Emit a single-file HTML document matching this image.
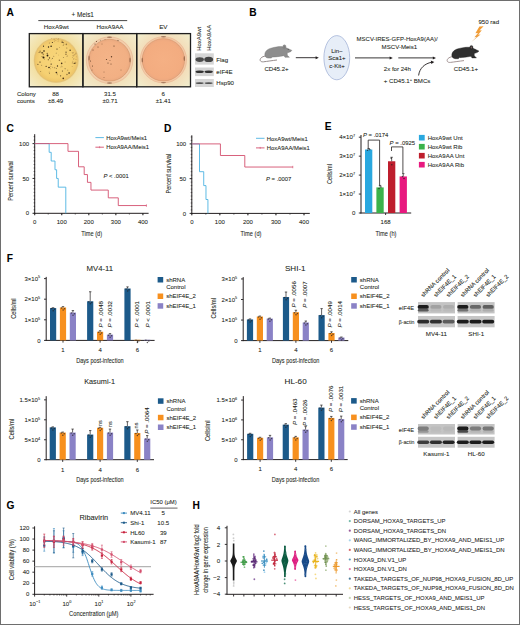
<!DOCTYPE html><html><head><meta charset="utf-8"><style>html,body{margin:0;padding:0;background:#fff;width:520px;height:625px;overflow:hidden}svg{display:block;font-family:"Liberation Sans", sans-serif} text{stroke:#231f20;stroke-width:0.14px;stroke-opacity:0.55}</style></head><body><svg width="520" height="625" viewBox="0 0 520 625" font-family='"Liberation Sans", sans-serif' fill="#231f20"><defs>
<radialGradient id="plate1" cx="50%" cy="50%" r="50%">
 <stop offset="0" stop-color="#f8d67a"/><stop offset="0.8" stop-color="#f5d072"/><stop offset="1" stop-color="#edc468"/>
</radialGradient>
<radialGradient id="plate2" cx="50%" cy="50%" r="50%">
 <stop offset="0" stop-color="#f4b488"/><stop offset="0.85" stop-color="#f2b084"/><stop offset="1" stop-color="#eaaa80"/>
</radialGradient>
<radialGradient id="plate3" cx="50%" cy="50%" r="50%">
 <stop offset="0" stop-color="#f5b084"/><stop offset="0.85" stop-color="#f3ac80"/><stop offset="1" stop-color="#eca880"/>
</radialGradient>
<radialGradient id="bg1" cx="50%" cy="50%" r="72%">
 <stop offset="0.5" stop-color="#f2dc98"/><stop offset="1" stop-color="#f4eed0"/>
</radialGradient>
<radialGradient id="bg2" cx="50%" cy="50%" r="72%">
 <stop offset="0.5" stop-color="#f2dcb4"/><stop offset="1" stop-color="#f2eed0"/>
</radialGradient>
<radialGradient id="bg3" cx="50%" cy="50%" r="72%">
 <stop offset="0.5" stop-color="#f4d8b4"/><stop offset="1" stop-color="#f0f0d0"/>
</radialGradient>
<linearGradient id="bolt" x1="0" y1="0" x2="0" y2="1">
 <stop offset="0" stop-color="#f39a2c"/><stop offset="0.6" stop-color="#f0a040"/><stop offset="1" stop-color="#c8925a"/>
</linearGradient>
</defs><rect x="0" y="0" width="520" height="625" fill="#fff"/><text x="6.60" y="15.90" font-size="10.2" font-weight="bold" fill="#000">A</text>
<text x="82.70" y="16.70" font-size="6.3" text-anchor="middle">+ Meis1</text>
<line x1="38.30" y1="20.60" x2="127.20" y2="20.60" stroke="#333" stroke-width="0.9"/>
<text x="56.30" y="29.40" font-size="6.25" text-anchor="middle">HoxA9wt</text>
<text x="110.00" y="29.40" font-size="6.25" text-anchor="middle">HoxA9AA</text>
<text x="163.30" y="29.40" font-size="6.25" text-anchor="middle">EV</text>
<rect x="29.30" y="33.60" width="53.60" height="53.20" fill="url(#bg1)"/>
<rect x="82.90" y="33.60" width="53.80" height="53.20" fill="url(#bg2)"/>
<rect x="136.70" y="33.60" width="53.80" height="53.20" fill="url(#bg3)"/>
<circle cx="56.20" cy="60.40" r="22.60" fill="#eed28e"/>
<circle cx="56.20" cy="60.40" r="21.60" fill="url(#plate1)"/>
<circle cx="56.2" cy="60.4" r="21.8" fill="none" stroke="#d9b364" stroke-width="0.7" opacity="0.7"/>
<circle cx="52.81" cy="67.17" r="0.30" fill="#3a2a18"/>
<circle cx="58.79" cy="55.01" r="0.30" fill="#8a6a38"/>
<circle cx="57.46" cy="65.98" r="0.65" fill="#3a2a18"/>
<circle cx="57.05" cy="74.85" r="0.30" fill="#8a6a38"/>
<circle cx="62.76" cy="66.87" r="0.30" fill="#8a6a38"/>
<circle cx="52.47" cy="58.18" r="0.45" fill="#3a2a18"/>
<circle cx="49.53" cy="57.92" r="0.65" fill="#4a3418"/>
<circle cx="41.94" cy="56.67" r="0.40" fill="#3a2a18"/>
<circle cx="42.62" cy="52.75" r="0.55" fill="#3a2a18"/>
<circle cx="51.53" cy="58.96" r="0.30" fill="#8a6a38"/>
<circle cx="60.59" cy="75.87" r="0.65" fill="#6a5028"/>
<circle cx="37.90" cy="64.42" r="0.55" fill="#6a5028"/>
<circle cx="56.28" cy="68.67" r="0.45" fill="#3a2a18"/>
<circle cx="43.59" cy="54.03" r="0.55" fill="#9a7a40"/>
<circle cx="41.76" cy="65.21" r="0.35" fill="#3a2a18"/>
<circle cx="48.30" cy="59.81" r="0.55" fill="#4a3418"/>
<circle cx="67.77" cy="55.24" r="0.35" fill="#8a6a38"/>
<circle cx="39.84" cy="52.32" r="0.55" fill="#6a5028"/>
<circle cx="51.13" cy="46.25" r="0.80" fill="#3a2a18"/>
<circle cx="66.35" cy="44.40" r="0.80" fill="#9a7a40"/>
<circle cx="53.73" cy="56.28" r="0.50" fill="#9a7a40"/>
<circle cx="42.00" cy="52.83" r="0.80" fill="#6a5028"/>
<circle cx="52.38" cy="42.44" r="0.55" fill="#3a2a18"/>
<circle cx="67.03" cy="56.16" r="0.35" fill="#2a1e10"/>
<circle cx="72.13" cy="66.59" r="0.40" fill="#9a7a40"/>
<circle cx="56.38" cy="72.59" r="0.80" fill="#3a2a18"/>
<circle cx="62.40" cy="71.09" r="0.50" fill="#4a3418"/>
<circle cx="63.84" cy="43.96" r="0.50" fill="#9a7a40"/>
<circle cx="46.14" cy="66.33" r="0.65" fill="#4a3418"/>
<circle cx="60.97" cy="67.05" r="0.45" fill="#9a7a40"/>
<circle cx="57.62" cy="73.91" r="0.40" fill="#6a5028"/>
<circle cx="54.72" cy="67.69" r="0.55" fill="#8a6a38"/>
<circle cx="38.79" cy="52.69" r="0.30" fill="#2a1e10"/>
<circle cx="70.10" cy="50.24" r="0.65" fill="#2a1e10"/>
<circle cx="51.15" cy="64.12" r="0.65" fill="#3a2a18"/>
<circle cx="63.25" cy="78.42" r="0.80" fill="#4a3418"/>
<circle cx="67.85" cy="70.03" r="0.35" fill="#3a2a18"/>
<circle cx="43.15" cy="54.58" r="0.55" fill="#8a6a38"/>
<circle cx="74.20" cy="63.31" r="0.65" fill="#4a3418"/>
<circle cx="43.54" cy="46.15" r="0.55" fill="#2a1e10"/>
<circle cx="69.08" cy="72.93" r="0.80" fill="#2a1e10"/>
<circle cx="50.51" cy="60.98" r="0.35" fill="#9a7a40"/>
<circle cx="50.68" cy="68.78" r="0.40" fill="#8a6a38"/>
<circle cx="75.02" cy="63.15" r="0.55" fill="#4a3418"/>
<circle cx="49.34" cy="43.06" r="0.50" fill="#9a7a40"/>
<circle cx="66.83" cy="48.08" r="0.50" fill="#8a6a38"/>
<circle cx="50.87" cy="66.32" r="0.45" fill="#8a6a38"/>
<circle cx="42.84" cy="56.83" r="0.45" fill="#8a6a38"/>
<circle cx="63.49" cy="42.47" r="0.45" fill="#4a3418"/>
<circle cx="63.18" cy="45.15" r="0.45" fill="#4a3418"/>
<circle cx="44.64" cy="59.11" r="0.30" fill="#3a2a18"/>
<circle cx="59.54" cy="47.42" r="0.45" fill="#9a7a40"/>
<circle cx="47.17" cy="53.38" r="0.55" fill="#6a5028"/>
<circle cx="61.65" cy="63.42" r="0.80" fill="#4a3418"/>
<circle cx="49.10" cy="71.94" r="0.30" fill="#2a1e10"/>
<circle cx="65.83" cy="54.22" r="0.35" fill="#9a7a40"/>
<circle cx="65.07" cy="68.72" r="0.45" fill="#2a1e10"/>
<circle cx="66.05" cy="52.15" r="0.55" fill="#3a2a18"/>
<circle cx="62.23" cy="42.15" r="0.65" fill="#2a1e10"/>
<circle cx="40.75" cy="71.42" r="0.40" fill="#4a3418"/>
<circle cx="59.43" cy="60.26" r="0.80" fill="#9a7a40"/>
<circle cx="66.96" cy="74.49" r="0.80" fill="#9a7a40"/>
<circle cx="63.31" cy="57.45" r="0.40" fill="#3a2a18"/>
<circle cx="75.34" cy="62.12" r="0.35" fill="#8a6a38"/>
<circle cx="56.18" cy="53.12" r="0.45" fill="#4a3418"/>
<circle cx="65.06" cy="61.97" r="0.45" fill="#8a6a38"/>
<circle cx="49.59" cy="73.18" r="0.40" fill="#3a2a18"/>
<circle cx="65.99" cy="54.19" r="0.80" fill="#9a7a40"/>
<circle cx="40.14" cy="51.13" r="0.65" fill="#8a6a38"/>
<circle cx="61.37" cy="65.96" r="0.30" fill="#2a1e10"/>
<circle cx="43.50" cy="57.50" r="1.00" fill="#2a1c0e"/>
<circle cx="47.50" cy="55.50" r="0.90" fill="#2a1c0e"/>
<circle cx="44.00" cy="51.00" r="0.80" fill="#2a1c0e"/>
<circle cx="48.50" cy="47.00" r="0.70" fill="#2a1c0e"/>
<circle cx="49.00" cy="67.50" r="0.80" fill="#2a1c0e"/>
<circle cx="40.00" cy="62.00" r="0.60" fill="#2a1c0e"/>
<circle cx="57.00" cy="49.00" r="0.60" fill="#2a1c0e"/>
<circle cx="75.38" cy="59.30" r="0.25" fill="#8a6a40" opacity="0.8"/>
<circle cx="72.36" cy="57.68" r="0.40" fill="#8a6a40" opacity="0.8"/>
<circle cx="72.10" cy="52.74" r="0.40" fill="#8a6a40" opacity="0.8"/>
<circle cx="74.09" cy="58.67" r="0.25" fill="#8a6a40" opacity="0.8"/>
<circle cx="75.92" cy="52.68" r="0.25" fill="#8a6a40" opacity="0.8"/>
<circle cx="72.88" cy="61.27" r="0.40" fill="#8a6a40" opacity="0.8"/>
<circle cx="73.76" cy="52.33" r="0.25" fill="#8a6a40" opacity="0.8"/>
<circle cx="73.72" cy="59.35" r="0.40" fill="#8a6a40" opacity="0.8"/>
<circle cx="74.53" cy="54.39" r="0.30" fill="#8a6a40" opacity="0.8"/>
<circle cx="73.76" cy="58.40" r="0.30" fill="#8a6a40" opacity="0.8"/>
<circle cx="74.04" cy="54.97" r="0.40" fill="#8a6a40" opacity="0.8"/>
<circle cx="75.88" cy="63.31" r="0.30" fill="#8a6a40" opacity="0.8"/>
<circle cx="76.11" cy="62.71" r="0.25" fill="#8a6a40" opacity="0.8"/>
<circle cx="75.70" cy="53.65" r="0.25" fill="#8a6a40" opacity="0.8"/>
<circle cx="73.46" cy="55.79" r="0.40" fill="#8a6a40" opacity="0.8"/>
<circle cx="72.70" cy="52.88" r="0.40" fill="#8a6a40" opacity="0.8"/>
<circle cx="73.01" cy="53.47" r="0.25" fill="#8a6a40" opacity="0.8"/>
<circle cx="76.20" cy="59.72" r="0.30" fill="#8a6a40" opacity="0.8"/>
<circle cx="72.21" cy="62.59" r="0.30" fill="#8a6a40" opacity="0.8"/>
<circle cx="72.60" cy="63.43" r="0.30" fill="#8a6a40" opacity="0.8"/>
<circle cx="75.92" cy="53.95" r="0.40" fill="#8a6a40" opacity="0.8"/>
<circle cx="75.66" cy="53.94" r="0.30" fill="#8a6a40" opacity="0.8"/>
<circle cx="76.47" cy="56.85" r="0.30" fill="#8a6a40" opacity="0.8"/>
<circle cx="72.48" cy="55.82" r="0.40" fill="#8a6a40" opacity="0.8"/>
<circle cx="73.33" cy="56.06" r="0.30" fill="#8a6a40" opacity="0.8"/>
<circle cx="73.70" cy="52.22" r="0.30" fill="#8a6a40" opacity="0.8"/>
<circle cx="74.09" cy="55.55" r="0.25" fill="#8a6a40" opacity="0.8"/>
<circle cx="72.06" cy="63.02" r="0.25" fill="#8a6a40" opacity="0.8"/>
<circle cx="76.36" cy="53.26" r="0.30" fill="#8a6a40" opacity="0.8"/>
<circle cx="72.86" cy="62.87" r="0.25" fill="#8a6a40" opacity="0.8"/>
<circle cx="54.25" cy="39.02" r="0.30" fill="#8a6a40" opacity="0.7"/>
<circle cx="61.20" cy="41.20" r="0.30" fill="#8a6a40" opacity="0.7"/>
<circle cx="55.87" cy="40.65" r="0.40" fill="#8a6a40" opacity="0.7"/>
<circle cx="57.85" cy="41.30" r="0.25" fill="#8a6a40" opacity="0.7"/>
<circle cx="54.35" cy="41.70" r="0.25" fill="#8a6a40" opacity="0.7"/>
<circle cx="56.10" cy="38.79" r="0.25" fill="#8a6a40" opacity="0.7"/>
<circle cx="58.61" cy="41.71" r="0.25" fill="#8a6a40" opacity="0.7"/>
<circle cx="58.30" cy="39.39" r="0.30" fill="#8a6a40" opacity="0.7"/>
<circle cx="61.35" cy="40.32" r="0.30" fill="#8a6a40" opacity="0.7"/>
<circle cx="62.93" cy="40.17" r="0.30" fill="#8a6a40" opacity="0.7"/>
<circle cx="58.46" cy="38.67" r="0.40" fill="#8a6a40" opacity="0.7"/>
<circle cx="53.86" cy="38.94" r="0.25" fill="#8a6a40" opacity="0.7"/>
<circle cx="54.14" cy="39.22" r="0.30" fill="#8a6a40" opacity="0.7"/>
<circle cx="58.54" cy="40.62" r="0.25" fill="#8a6a40" opacity="0.7"/>
<circle cx="54.48" cy="40.50" r="0.25" fill="#8a6a40" opacity="0.7"/>
<circle cx="54.25" cy="41.71" r="0.30" fill="#8a6a40" opacity="0.7"/>
<circle cx="51.44" cy="38.57" r="0.40" fill="#8a6a40" opacity="0.7"/>
<circle cx="57.61" cy="39.26" r="0.30" fill="#8a6a40" opacity="0.7"/>
<circle cx="109.60" cy="60.20" r="23.60" fill="#f3cdaa"/>
<circle cx="109.6" cy="60.2" r="23.3" fill="none" stroke="#dcaa88" stroke-width="0.5" opacity="0.7"/>
<circle cx="109.60" cy="60.20" r="20.90" fill="url(#plate2)"/>
<circle cx="109.6" cy="60.2" r="20.9" fill="none" stroke="#c8865c" stroke-width="0.6" opacity="0.8"/>
<circle cx="111.50" cy="56.80" r="0.70" fill="#5a3a22"/>
<circle cx="106.50" cy="59.50" r="0.60" fill="#5a3a22"/>
<circle cx="108.00" cy="63.00" r="0.55" fill="#5a3a22"/>
<circle cx="111.00" cy="64.00" r="0.50" fill="#5a3a22"/>
<circle cx="95.00" cy="44.00" r="0.50" fill="#5a3a22"/>
<circle cx="114.00" cy="46.00" r="0.60" fill="#5a3a22"/>
<circle cx="92.50" cy="66.00" r="0.50" fill="#5a3a22"/>
<circle cx="104.00" cy="72.00" r="0.40" fill="#5a3a22"/>
<circle cx="98.00" cy="47.00" r="0.50" fill="#5a3a22"/>
<circle cx="121.00" cy="70.00" r="0.40" fill="#5a3a22"/>
<circle cx="110.00" cy="60.50" r="0.40" fill="#5a3a22"/>
<circle cx="102.00" cy="44.00" r="0.40" fill="#5a3a22"/>
<circle cx="93.00" cy="50.00" r="0.50" fill="#5a3a22"/>
<circle cx="96.50" cy="41.50" r="0.50" fill="#5a3a22"/>
<circle cx="100.50" cy="40.20" r="0.40" fill="#5a3a22"/>
<circle cx="105.00" cy="39.40" r="0.40" fill="#5a3a22"/>
<circle cx="118.00" cy="40.50" r="0.50" fill="#5a3a22"/>
<circle cx="90.50" cy="61.00" r="0.50" fill="#5a3a22"/>
<circle cx="92.00" cy="70.00" r="0.40" fill="#5a3a22"/>
<circle cx="104.00" cy="77.50" r="0.40" fill="#5a3a22"/>
<circle cx="163.40" cy="59.80" r="23.40" fill="#f4c9a6"/>
<circle cx="163.4" cy="59.8" r="23.1" fill="none" stroke="#dcaa88" stroke-width="0.5" opacity="0.7"/>
<circle cx="163.40" cy="59.80" r="21.20" fill="url(#plate3)"/>
<circle cx="163.4" cy="59.8" r="21.2" fill="none" stroke="#c8865c" stroke-width="0.6" opacity="0.7"/>
<ellipse cx="89.0" cy="58" rx="0.7" ry="2.6" fill="#6a4028" opacity="0.55"/>
<ellipse cx="130.0" cy="60" rx="0.7" ry="2.6" fill="#6a4028" opacity="0.55"/>
<ellipse cx="142.3" cy="60" rx="0.7" ry="2.6" fill="#6a4028" opacity="0.55"/>
<ellipse cx="184.3" cy="58.5" rx="0.7" ry="2.6" fill="#6a4028" opacity="0.55"/>
<ellipse cx="109.5" cy="37.2" rx="2.6" ry="0.7" fill="#6a4028" opacity="0.55"/>
<ellipse cx="163.5" cy="36.8" rx="2.6" ry="0.7" fill="#6a4028" opacity="0.55"/>
<ellipse cx="163.5" cy="82.6" rx="2.6" ry="0.7" fill="#6a4028" opacity="0.55"/>
<ellipse cx="109.5" cy="83.0" rx="2.6" ry="0.7" fill="#6a4028" opacity="0.55"/>
<rect x="29.30" y="33.60" width="53.60" height="53.20" fill="none" stroke="#1e1e1e" stroke-width="1.3"/>
<rect x="82.90" y="33.60" width="53.80" height="53.20" fill="none" stroke="#1e1e1e" stroke-width="1.3"/>
<rect x="136.70" y="33.60" width="53.80" height="53.20" fill="none" stroke="#1e1e1e" stroke-width="1.3"/>
<text x="16.90" y="96.00" font-size="6.1">Colony</text>
<text x="16.90" y="103.30" font-size="6.1">counts</text>
<text x="55.60" y="96.00" font-size="6.1" text-anchor="middle">88</text>
<text x="55.60" y="103.30" font-size="6.1" text-anchor="middle">±8.49</text>
<text x="110.00" y="96.00" font-size="6.1" text-anchor="middle">31.5</text>
<text x="110.00" y="103.30" font-size="6.1" text-anchor="middle">±0.71</text>
<text x="163.30" y="96.00" font-size="6.1" text-anchor="middle">6</text>
<text x="163.30" y="103.30" font-size="6.1" text-anchor="middle">±1.41</text>
<filter id="blur1" x="-20%" y="-50%" width="140%" height="200%"><feGaussianBlur stdDeviation="0.45"/></filter>
<rect x="195.00" y="53.30" width="18.80" height="11.30" fill="#d6d6d6"/>
<ellipse cx="199.70" cy="59.60" rx="4.20" ry="2.40" fill="#444" opacity="0.95" filter="url(#blur1)"/>
<ellipse cx="208.70" cy="59.40" rx="4.40" ry="2.60" fill="#3c3c3c" opacity="0.95" filter="url(#blur1)"/>
<rect x="195.00" y="67.50" width="18.80" height="8.60" fill="#d4d4d4"/>
<ellipse cx="199.70" cy="71.80" rx="4.20" ry="1.30" fill="#2a2a2a" opacity="0.95" filter="url(#blur1)"/>
<ellipse cx="208.70" cy="71.80" rx="4.20" ry="1.30" fill="#2a2a2a" opacity="0.95" filter="url(#blur1)"/>
<rect x="195.00" y="79.00" width="18.80" height="8.00" fill="#d6d6d6"/>
<ellipse cx="199.70" cy="83.10" rx="4.00" ry="0.95" fill="#3a3a3a" opacity="0.85" filter="url(#blur1)"/>
<ellipse cx="208.70" cy="83.10" rx="4.00" ry="0.95" fill="#3a3a3a" opacity="0.85" filter="url(#blur1)"/>
<text x="216.30" y="61.80" font-size="6.1">Flag</text>
<text x="216.30" y="74.00" font-size="6.1">eIF4E</text>
<text x="216.30" y="85.30" font-size="6.1">Hsp90</text>
<text x="201.20" y="50.80" font-size="6.0" transform="rotate(-90 201.20 50.80)">HoxA9wt</text>
<text x="210.90" y="50.80" font-size="6.0" transform="rotate(-90 210.90 50.80)">HoxA9AA</text>
<text x="249.20" y="15.90" font-size="10.2" font-weight="bold" fill="#000">B</text>
<path d="M265.80 56.00 C259.00 56.70 258.40 62.40 263.50 61.80 C267.50 61.30 272.00 60.60 277.00 60.00" fill="none" stroke="#8a8080" stroke-width="0.9"/>
<path d="M265.00 55.90 C264.20 52.40 266.50 49.40 271.00 48.20 C275.00 47.00 279.50 46.40 282.50 46.70 C284.50 46.90 286.50 47.70 288.00 48.60 L291.90 50.40 C291.00 51.80 289.00 52.40 287.20 52.80 L287.30 55.20 L289.40 57.30 L285.00 57.30 L284.00 55.70 C280.00 56.40 274.00 57.20 272.20 57.00 L271.40 58.10 L268.00 58.10 C266.20 57.70 265.30 56.90 265.00 55.90 Z" fill="#8d8d8d" stroke="#6e6e6e" stroke-width="0.4"/>
<ellipse cx="284.40" cy="46.70" rx="1.6" ry="1.9" fill="#8d8d8d" stroke="#6e6e6e" stroke-width="0.3"/>
<ellipse cx="284.40" cy="47.00" rx="0.8" ry="1.0" fill="#7e7e7e"/>
<circle cx="288.20" cy="49.50" r="0.50" fill="#444"/>
<text x="276.50" y="70.60" font-size="6.1" text-anchor="middle">CD45.2+</text>
<line x1="295.80" y1="57.70" x2="316.30" y2="57.70" stroke="#231f20" stroke-width="0.9"/>
<path d="M318.8 57.7 L315.6 56.2 L315.6 59.2 Z" fill="#231f20"/>
<ellipse cx="336.8" cy="57.7" rx="12.9" ry="22.1" fill="#e7eef8" stroke="#9aaad2" stroke-width="0.7"/>
<text x="336.90" y="53.10" font-size="6.0" text-anchor="middle">Lin−</text>
<text x="336.90" y="60.20" font-size="6.0" text-anchor="middle">Sca1+</text>
<text x="336.90" y="67.90" font-size="6.0" text-anchor="middle">c-Kit+</text>
<line x1="355.00" y1="57.90" x2="390.30" y2="57.90" stroke="#231f20" stroke-width="0.9"/>
<path d="M392.8 57.9 L389.6 56.4 L389.6 59.4 Z" fill="#231f20"/>
<line x1="398.30" y1="57.90" x2="433.50" y2="57.90" stroke="#231f20" stroke-width="0.9"/>
<path d="M436 57.9 L432.8 56.4 L432.8 59.4 Z" fill="#231f20"/>
<text x="356.60" y="41.40" font-size="6.1" textLength="81.00" lengthAdjust="spacingAndGlyphs">MSCV-IRES-GFP-HoxA9(AA)/</text>
<text x="399.40" y="49.10" font-size="6.1" text-anchor="middle">MSCV-Meis1</text>
<text x="383.80" y="70.60" font-size="6.1">2x for 24h</text>
<text x="383.80" y="83.30" font-size="6.1">+ CD45.1<tspan font-size="4" dy="-2.5">+</tspan><tspan dy="2.5"> BMCs</tspan></text>
<path d="M418.6 75.5 C419.5 68, 425 63.5, 431.5 62.3" fill="none" stroke="#231f20" stroke-width="0.9"/>
<path d="M434.3 61.9 L430.8 60.6 L431.3 63.9 Z" fill="#231f20"/>
<path d="M452.80 56.60 C446.00 57.30 445.40 63.00 450.50 62.40 C454.50 61.90 459.00 61.20 464.00 60.60" fill="none" stroke="#9a8888" stroke-width="0.9"/>
<path d="M452.00 56.50 C451.20 53.00 453.50 50.00 458.00 48.80 C462.00 47.60 466.50 47.00 469.50 47.30 C471.50 47.50 473.50 48.30 475.00 49.20 L478.90 51.00 C478.00 52.40 476.00 53.00 474.20 53.40 L474.30 55.80 L476.40 57.90 L472.00 57.90 L471.00 56.30 C467.00 57.00 461.00 57.80 459.20 57.60 L458.40 58.70 L455.00 58.70 C453.20 58.30 452.30 57.50 452.00 56.50 Z" fill="#2f2f2f" stroke="#1c1c1c" stroke-width="0.4"/>
<ellipse cx="471.40" cy="47.30" rx="1.6" ry="1.9" fill="#2f2f2f" stroke="#1c1c1c" stroke-width="0.3"/>
<ellipse cx="471.40" cy="47.60" rx="0.8" ry="1.0" fill="#7a6060"/>
<circle cx="475.20" cy="50.10" r="0.50" fill="#111"/>
<text x="465.90" y="71.40" font-size="6.1" text-anchor="middle">CD45.1+</text>
<text x="478.40" y="24.30" font-size="6.1">950 rad</text>
<path d="M483.6 26.2 L479.4 26.5 L475.4 33.2 L478.0 32.9 L474.4 37.3 L476.6 37.0 L471.3 41.9 L480.6 34.5 L478.2 34.8 L481.8 30.3 L479.4 30.6 Z" fill="url(#bolt)"/>
<text x="6.60" y="132.30" font-size="10.2" font-weight="bold" fill="#000">C</text>
<line x1="34.70" y1="134.20" x2="34.70" y2="213.80" stroke="#231f20" stroke-width="1.0"/>
<line x1="34.20" y1="213.30" x2="148.60" y2="213.30" stroke="#231f20" stroke-width="1.0"/>
<line x1="32.50" y1="213.30" x2="34.70" y2="213.30" stroke="#231f20" stroke-width="0.9"/>
<text x="29.10" y="215.40" font-size="6.0" text-anchor="end">0</text>
<line x1="32.50" y1="178.45" x2="34.70" y2="178.45" stroke="#231f20" stroke-width="0.9"/>
<text x="29.10" y="180.55" font-size="6.0" text-anchor="end">50</text>
<line x1="32.50" y1="143.60" x2="34.70" y2="143.60" stroke="#231f20" stroke-width="0.9"/>
<text x="29.10" y="145.70" font-size="6.0" text-anchor="end">100</text>
<line x1="33.60" y1="213.30" x2="35.10" y2="213.30" stroke="#231f20" stroke-width="0.6"/>
<line x1="33.60" y1="209.81" x2="35.10" y2="209.81" stroke="#231f20" stroke-width="0.6"/>
<line x1="33.60" y1="206.33" x2="35.10" y2="206.33" stroke="#231f20" stroke-width="0.6"/>
<line x1="33.60" y1="202.84" x2="35.10" y2="202.84" stroke="#231f20" stroke-width="0.6"/>
<line x1="33.60" y1="199.36" x2="35.10" y2="199.36" stroke="#231f20" stroke-width="0.6"/>
<line x1="33.60" y1="195.88" x2="35.10" y2="195.88" stroke="#231f20" stroke-width="0.6"/>
<line x1="33.60" y1="192.39" x2="35.10" y2="192.39" stroke="#231f20" stroke-width="0.6"/>
<line x1="33.60" y1="188.91" x2="35.10" y2="188.91" stroke="#231f20" stroke-width="0.6"/>
<line x1="33.60" y1="185.42" x2="35.10" y2="185.42" stroke="#231f20" stroke-width="0.6"/>
<line x1="33.60" y1="181.94" x2="35.10" y2="181.94" stroke="#231f20" stroke-width="0.6"/>
<line x1="33.60" y1="178.45" x2="35.10" y2="178.45" stroke="#231f20" stroke-width="0.6"/>
<line x1="33.60" y1="174.97" x2="35.10" y2="174.97" stroke="#231f20" stroke-width="0.6"/>
<line x1="33.60" y1="171.48" x2="35.10" y2="171.48" stroke="#231f20" stroke-width="0.6"/>
<line x1="33.60" y1="168.00" x2="35.10" y2="168.00" stroke="#231f20" stroke-width="0.6"/>
<line x1="33.60" y1="164.51" x2="35.10" y2="164.51" stroke="#231f20" stroke-width="0.6"/>
<line x1="33.60" y1="161.03" x2="35.10" y2="161.03" stroke="#231f20" stroke-width="0.6"/>
<line x1="33.60" y1="157.54" x2="35.10" y2="157.54" stroke="#231f20" stroke-width="0.6"/>
<line x1="33.60" y1="154.06" x2="35.10" y2="154.06" stroke="#231f20" stroke-width="0.6"/>
<line x1="33.60" y1="150.57" x2="35.10" y2="150.57" stroke="#231f20" stroke-width="0.6"/>
<line x1="33.60" y1="147.08" x2="35.10" y2="147.08" stroke="#231f20" stroke-width="0.6"/>
<line x1="33.60" y1="143.60" x2="35.10" y2="143.60" stroke="#231f20" stroke-width="0.6"/>
<line x1="33.60" y1="140.12" x2="35.10" y2="140.12" stroke="#231f20" stroke-width="0.6"/>
<line x1="33.60" y1="136.63" x2="35.10" y2="136.63" stroke="#231f20" stroke-width="0.6"/>
<line x1="34.70" y1="213.30" x2="34.70" y2="215.30" stroke="#231f20" stroke-width="0.9"/>
<text x="34.70" y="224.10" font-size="6.0" text-anchor="middle">0</text>
<line x1="61.75" y1="213.30" x2="61.75" y2="215.30" stroke="#231f20" stroke-width="0.9"/>
<text x="61.75" y="224.10" font-size="6.0" text-anchor="middle">100</text>
<line x1="88.80" y1="213.30" x2="88.80" y2="215.30" stroke="#231f20" stroke-width="0.9"/>
<text x="88.80" y="224.10" font-size="6.0" text-anchor="middle">200</text>
<line x1="115.85" y1="213.30" x2="115.85" y2="215.30" stroke="#231f20" stroke-width="0.9"/>
<text x="115.85" y="224.10" font-size="6.0" text-anchor="middle">300</text>
<line x1="142.90" y1="213.30" x2="142.90" y2="215.30" stroke="#231f20" stroke-width="0.9"/>
<text x="142.90" y="224.10" font-size="6.0" text-anchor="middle">400</text>
<line x1="34.70" y1="213.30" x2="34.70" y2="214.50" stroke="#231f20" stroke-width="0.7"/>
<line x1="48.23" y1="213.30" x2="48.23" y2="214.50" stroke="#231f20" stroke-width="0.7"/>
<line x1="61.75" y1="213.30" x2="61.75" y2="214.50" stroke="#231f20" stroke-width="0.7"/>
<line x1="75.28" y1="213.30" x2="75.28" y2="214.50" stroke="#231f20" stroke-width="0.7"/>
<line x1="88.80" y1="213.30" x2="88.80" y2="214.50" stroke="#231f20" stroke-width="0.7"/>
<line x1="102.33" y1="213.30" x2="102.33" y2="214.50" stroke="#231f20" stroke-width="0.7"/>
<line x1="115.85" y1="213.30" x2="115.85" y2="214.50" stroke="#231f20" stroke-width="0.7"/>
<line x1="129.38" y1="213.30" x2="129.38" y2="214.50" stroke="#231f20" stroke-width="0.7"/>
<line x1="142.90" y1="213.30" x2="142.90" y2="214.50" stroke="#231f20" stroke-width="0.7"/>
<path d="M34.70 143.60 L49.17 143.60 L49.17 152.31 L51.20 152.31 L51.20 161.03 L54.99 161.03 L54.99 169.74 L56.61 169.74 L56.61 178.45 L58.23 178.45 L58.23 187.16 L65.81 187.16 L65.81 213.30" fill="none" stroke="#4db3e2" stroke-width="0.9"/>
<path d="M34.70 143.60 L67.97 143.60 L67.97 151.34 L78.52 151.34 L78.52 166.81 L84.20 166.81 L84.20 174.55 L87.45 174.55 L87.45 182.35 L90.96 182.35 L90.96 190.09 L108.28 190.09 L108.28 197.83 L118.28 197.83 L118.28 205.56" fill="none" stroke="#d4506e" stroke-width="0.9"/>
<line x1="118.28" y1="205.56" x2="146.42" y2="205.56" stroke="#d4506e" stroke-width="0.9"/>
<line x1="146.42" y1="204.36" x2="146.42" y2="206.76" stroke="#d4506e" stroke-width="0.7"/>
<line x1="95.40" y1="137.60" x2="103.90" y2="137.60" stroke="#4db3e2" stroke-width="0.9"/>
<line x1="95.40" y1="147.20" x2="103.90" y2="147.20" stroke="#d4506e" stroke-width="0.9"/>
<line x1="99.60" y1="146.20" x2="99.60" y2="148.20" stroke="#d4506e" stroke-width="0.6"/>
<text x="106.20" y="139.80" font-size="5.9">HoxA9wt/Meis1</text>
<text x="106.20" y="149.40" font-size="5.9">HoxA9AA/Meis1</text>
<text x="103.40" y="177.70" font-size="5.9"><tspan font-style="italic">P</tspan> &lt; .0001</text>
<text stroke="#231f20" stroke-width="0.18" x="13.30" y="181.00" font-size="7.9" text-anchor="middle" textLength="39.50" lengthAdjust="spacingAndGlyphs" transform="rotate(-90 13.30 181.00)">Percent survival</text>
<text stroke="#231f20" stroke-width="0.18" x="91.70" y="236.10" font-size="7.9" text-anchor="middle" textLength="20.80" lengthAdjust="spacingAndGlyphs">Time (d)</text>
<text x="164.00" y="132.30" font-size="10.2" font-weight="bold" fill="#000">D</text>
<line x1="191.80" y1="135.30" x2="191.80" y2="213.90" stroke="#231f20" stroke-width="1.0"/>
<line x1="191.30" y1="213.40" x2="309.80" y2="213.40" stroke="#231f20" stroke-width="1.0"/>
<line x1="189.60" y1="213.40" x2="191.80" y2="213.40" stroke="#231f20" stroke-width="0.9"/>
<text x="186.20" y="215.50" font-size="6.0" text-anchor="end">0</text>
<line x1="189.60" y1="178.65" x2="191.80" y2="178.65" stroke="#231f20" stroke-width="0.9"/>
<text x="186.20" y="180.75" font-size="6.0" text-anchor="end">50</text>
<line x1="189.60" y1="143.90" x2="191.80" y2="143.90" stroke="#231f20" stroke-width="0.9"/>
<text x="186.20" y="146.00" font-size="6.0" text-anchor="end">100</text>
<line x1="190.70" y1="213.40" x2="192.20" y2="213.40" stroke="#231f20" stroke-width="0.6"/>
<line x1="190.70" y1="209.93" x2="192.20" y2="209.93" stroke="#231f20" stroke-width="0.6"/>
<line x1="190.70" y1="206.45" x2="192.20" y2="206.45" stroke="#231f20" stroke-width="0.6"/>
<line x1="190.70" y1="202.97" x2="192.20" y2="202.97" stroke="#231f20" stroke-width="0.6"/>
<line x1="190.70" y1="199.50" x2="192.20" y2="199.50" stroke="#231f20" stroke-width="0.6"/>
<line x1="190.70" y1="196.03" x2="192.20" y2="196.03" stroke="#231f20" stroke-width="0.6"/>
<line x1="190.70" y1="192.55" x2="192.20" y2="192.55" stroke="#231f20" stroke-width="0.6"/>
<line x1="190.70" y1="189.08" x2="192.20" y2="189.08" stroke="#231f20" stroke-width="0.6"/>
<line x1="190.70" y1="185.60" x2="192.20" y2="185.60" stroke="#231f20" stroke-width="0.6"/>
<line x1="190.70" y1="182.12" x2="192.20" y2="182.12" stroke="#231f20" stroke-width="0.6"/>
<line x1="190.70" y1="178.65" x2="192.20" y2="178.65" stroke="#231f20" stroke-width="0.6"/>
<line x1="190.70" y1="175.18" x2="192.20" y2="175.18" stroke="#231f20" stroke-width="0.6"/>
<line x1="190.70" y1="171.70" x2="192.20" y2="171.70" stroke="#231f20" stroke-width="0.6"/>
<line x1="190.70" y1="168.23" x2="192.20" y2="168.23" stroke="#231f20" stroke-width="0.6"/>
<line x1="190.70" y1="164.75" x2="192.20" y2="164.75" stroke="#231f20" stroke-width="0.6"/>
<line x1="190.70" y1="161.28" x2="192.20" y2="161.28" stroke="#231f20" stroke-width="0.6"/>
<line x1="190.70" y1="157.80" x2="192.20" y2="157.80" stroke="#231f20" stroke-width="0.6"/>
<line x1="190.70" y1="154.32" x2="192.20" y2="154.32" stroke="#231f20" stroke-width="0.6"/>
<line x1="190.70" y1="150.85" x2="192.20" y2="150.85" stroke="#231f20" stroke-width="0.6"/>
<line x1="190.70" y1="147.38" x2="192.20" y2="147.38" stroke="#231f20" stroke-width="0.6"/>
<line x1="190.70" y1="143.90" x2="192.20" y2="143.90" stroke="#231f20" stroke-width="0.6"/>
<line x1="190.70" y1="140.43" x2="192.20" y2="140.43" stroke="#231f20" stroke-width="0.6"/>
<line x1="190.70" y1="136.95" x2="192.20" y2="136.95" stroke="#231f20" stroke-width="0.6"/>
<line x1="191.80" y1="213.40" x2="191.80" y2="215.40" stroke="#231f20" stroke-width="0.9"/>
<text x="191.80" y="224.20" font-size="6.0" text-anchor="middle">0</text>
<line x1="219.85" y1="213.40" x2="219.85" y2="215.40" stroke="#231f20" stroke-width="0.9"/>
<text x="219.85" y="224.20" font-size="6.0" text-anchor="middle">100</text>
<line x1="247.90" y1="213.40" x2="247.90" y2="215.40" stroke="#231f20" stroke-width="0.9"/>
<text x="247.90" y="224.20" font-size="6.0" text-anchor="middle">200</text>
<line x1="275.95" y1="213.40" x2="275.95" y2="215.40" stroke="#231f20" stroke-width="0.9"/>
<text x="275.95" y="224.20" font-size="6.0" text-anchor="middle">300</text>
<line x1="304.00" y1="213.40" x2="304.00" y2="215.40" stroke="#231f20" stroke-width="0.9"/>
<text x="304.00" y="224.20" font-size="6.0" text-anchor="middle">400</text>
<line x1="191.80" y1="213.40" x2="191.80" y2="214.60" stroke="#231f20" stroke-width="0.7"/>
<line x1="205.83" y1="213.40" x2="205.83" y2="214.60" stroke="#231f20" stroke-width="0.7"/>
<line x1="219.85" y1="213.40" x2="219.85" y2="214.60" stroke="#231f20" stroke-width="0.7"/>
<line x1="233.88" y1="213.40" x2="233.88" y2="214.60" stroke="#231f20" stroke-width="0.7"/>
<line x1="247.90" y1="213.40" x2="247.90" y2="214.60" stroke="#231f20" stroke-width="0.7"/>
<line x1="261.93" y1="213.40" x2="261.93" y2="214.60" stroke="#231f20" stroke-width="0.7"/>
<line x1="275.95" y1="213.40" x2="275.95" y2="214.60" stroke="#231f20" stroke-width="0.7"/>
<line x1="289.98" y1="213.40" x2="289.98" y2="214.60" stroke="#231f20" stroke-width="0.7"/>
<line x1="304.00" y1="213.40" x2="304.00" y2="214.60" stroke="#231f20" stroke-width="0.7"/>
<path d="M191.80 143.90 L199.51 143.90 L199.51 171.70 L203.72 171.70 L203.72 185.60 L205.97 185.60 L205.97 199.50 L207.93 199.50 L207.93 213.40" fill="none" stroke="#4db3e2" stroke-width="0.9"/>
<path d="M191.80 143.90 L220.41 143.90 L220.41 155.51 L244.81 155.51 L244.81 167.04" fill="none" stroke="#d4506e" stroke-width="0.9"/>
<line x1="244.81" y1="167.04" x2="292.78" y2="167.04" stroke="#d4506e" stroke-width="0.9"/>
<line x1="292.78" y1="165.84" x2="292.78" y2="168.24" stroke="#d4506e" stroke-width="0.7"/>
<line x1="256.00" y1="138.30" x2="264.50" y2="138.30" stroke="#4db3e2" stroke-width="0.9"/>
<line x1="256.00" y1="147.90" x2="264.50" y2="147.90" stroke="#d4506e" stroke-width="0.9"/>
<line x1="260.20" y1="146.90" x2="260.20" y2="148.90" stroke="#d4506e" stroke-width="0.6"/>
<text x="266.80" y="140.50" font-size="5.9">HoxA9wt/Meis1</text>
<text x="266.80" y="150.10" font-size="5.9">HoxA9AA/Meis1</text>
<text x="266.00" y="180.90" font-size="5.9"><tspan font-style="italic">P</tspan> = .0007</text>
<text stroke="#231f20" stroke-width="0.18" x="170.80" y="173.70" font-size="7.9" text-anchor="middle" textLength="39.50" lengthAdjust="spacingAndGlyphs" transform="rotate(-90 170.80 173.70)">Percent survival</text>
<text stroke="#231f20" stroke-width="0.18" x="251.00" y="236.20" font-size="7.9" text-anchor="middle" textLength="20.80" lengthAdjust="spacingAndGlyphs">Time (d)</text>
<text x="324.80" y="130.00" font-size="10.2" font-weight="bold" fill="#000">E</text>
<line x1="361.00" y1="135.00" x2="361.00" y2="213.50" stroke="#231f20" stroke-width="1.0"/>
<line x1="360.50" y1="213.00" x2="411.20" y2="213.00" stroke="#231f20" stroke-width="1.0"/>
<line x1="385.60" y1="213.00" x2="385.60" y2="215.00" stroke="#231f20" stroke-width="0.9"/>
<line x1="358.80" y1="213.00" x2="361.00" y2="213.00" stroke="#231f20" stroke-width="0.9"/>
<text x="355.40" y="215.20" font-size="6.1" text-anchor="end">0</text>
<line x1="358.80" y1="194.05" x2="361.00" y2="194.05" stroke="#231f20" stroke-width="0.9"/>
<text x="355.00" y="196.25" font-size="6.1" text-anchor="end">1×10<tspan font-size="3.8" dy="-2.4">7</tspan></text>
<line x1="358.80" y1="175.10" x2="361.00" y2="175.10" stroke="#231f20" stroke-width="0.9"/>
<text x="355.00" y="177.30" font-size="6.1" text-anchor="end">2×10<tspan font-size="3.8" dy="-2.4">7</tspan></text>
<line x1="358.80" y1="156.15" x2="361.00" y2="156.15" stroke="#231f20" stroke-width="0.9"/>
<text x="355.00" y="158.35" font-size="6.1" text-anchor="end">3×10<tspan font-size="3.8" dy="-2.4">7</tspan></text>
<line x1="358.80" y1="137.20" x2="361.00" y2="137.20" stroke="#231f20" stroke-width="0.9"/>
<text x="355.00" y="139.40" font-size="6.1" text-anchor="end">4×10<tspan font-size="3.8" dy="-2.4">7</tspan></text>
<rect x="365.00" y="149.52" width="7.30" height="63.48" fill="#2aa8df"/>
<rect x="376.40" y="187.42" width="7.30" height="25.58" fill="#3bb24a"/>
<rect x="388.00" y="161.27" width="7.30" height="51.73" fill="#be1e2d"/>
<rect x="399.60" y="176.43" width="7.30" height="36.57" fill="#e8197f"/>
<line x1="368.65" y1="148.52" x2="368.65" y2="149.52" stroke="#231f20" stroke-width="0.7"/>
<line x1="367.45" y1="148.52" x2="369.85" y2="148.52" stroke="#231f20" stroke-width="0.7"/>
<line x1="380.05" y1="185.42" x2="380.05" y2="187.42" stroke="#231f20" stroke-width="0.7"/>
<line x1="378.85" y1="185.42" x2="381.25" y2="185.42" stroke="#231f20" stroke-width="0.7"/>
<line x1="391.65" y1="157.27" x2="391.65" y2="161.27" stroke="#231f20" stroke-width="0.7"/>
<line x1="390.45" y1="157.27" x2="392.85" y2="157.27" stroke="#231f20" stroke-width="0.7"/>
<line x1="403.25" y1="173.63" x2="403.25" y2="176.43" stroke="#231f20" stroke-width="0.7"/>
<line x1="402.05" y1="173.63" x2="404.45" y2="173.63" stroke="#231f20" stroke-width="0.7"/>
<circle cx="367.50" cy="150.30" r="0.80" fill="#231f20" opacity="0.75"/>
<circle cx="369.80" cy="149.60" r="0.80" fill="#231f20" opacity="0.75"/>
<circle cx="379.00" cy="188.50" r="0.80" fill="#231f20" opacity="0.75"/>
<circle cx="381.00" cy="187.00" r="0.80" fill="#231f20" opacity="0.75"/>
<circle cx="391.20" cy="158.20" r="0.80" fill="#231f20" opacity="0.75"/>
<circle cx="391.80" cy="164.80" r="0.80" fill="#231f20" opacity="0.75"/>
<circle cx="402.50" cy="176.50" r="0.80" fill="#231f20" opacity="0.75"/>
<circle cx="404.00" cy="178.50" r="0.80" fill="#231f20" opacity="0.75"/>
<path d="M368.2 148.5 L368.2 140.1 L379.6 140.1 L379.6 185.6" fill="none" stroke="#231f20" stroke-width="0.8"/>
<path d="M391.5 151.0 L391.5 146.9 L402.9 146.9 L402.9 173.3" fill="none" stroke="#231f20" stroke-width="0.8"/>
<text x="363.00" y="137.20" font-size="5.9"><tspan font-style="italic">P</tspan> = .0174</text>
<text x="389.60" y="144.80" font-size="5.9"><tspan font-style="italic">P</tspan> = .0925</text>
<text stroke="#231f20" stroke-width="0.18" x="332.00" y="174.00" font-size="7.9" text-anchor="middle" textLength="20.00" lengthAdjust="spacingAndGlyphs" transform="rotate(-90 332.00 174.00)">Cells/ml</text>
<text x="385.60" y="224.20" font-size="6.0" text-anchor="middle">168</text>
<text stroke="#231f20" stroke-width="0.18" x="386.00" y="235.60" font-size="7.9" text-anchor="middle" textLength="21.00" lengthAdjust="spacingAndGlyphs">Time (h)</text>
<rect x="418.90" y="134.90" width="5.80" height="5.60" fill="#2aa8df"/>
<text x="427.70" y="139.80" font-size="6.0">HoxA9wt Unt</text>
<rect x="418.90" y="143.90" width="5.80" height="5.60" fill="#3bb24a"/>
<text x="427.70" y="148.80" font-size="6.0">HoxA9wt Rib</text>
<rect x="418.90" y="152.90" width="5.80" height="5.60" fill="#be1e2d"/>
<text x="427.70" y="157.80" font-size="6.0">HoxA9AA Unt</text>
<rect x="418.90" y="161.90" width="5.80" height="5.60" fill="#e8197f"/>
<text x="427.70" y="166.80" font-size="6.0">HoxA9AA Rib</text>
<text x="6.80" y="262.00" font-size="10.2" font-weight="bold" fill="#000">F</text>
<line x1="46.20" y1="276.90" x2="46.20" y2="340.90" stroke="#231f20" stroke-width="1.0"/>
<line x1="45.70" y1="340.40" x2="154.60" y2="340.40" stroke="#231f20" stroke-width="1.0"/>
<line x1="44.00" y1="340.40" x2="46.20" y2="340.40" stroke="#231f20" stroke-width="0.9"/>
<text x="40.60" y="342.60" font-size="6.0" text-anchor="end">0</text>
<line x1="44.00" y1="319.80" x2="46.20" y2="319.80" stroke="#231f20" stroke-width="0.9"/>
<text x="40.10" y="322.00" font-size="6.0" text-anchor="end">1×10<tspan font-size="3.8" dy="-2.4">5</tspan></text>
<line x1="44.00" y1="299.20" x2="46.20" y2="299.20" stroke="#231f20" stroke-width="0.9"/>
<text x="40.10" y="301.40" font-size="6.0" text-anchor="end">2×10<tspan font-size="3.8" dy="-2.4">5</tspan></text>
<line x1="44.00" y1="278.60" x2="46.20" y2="278.60" stroke="#231f20" stroke-width="0.9"/>
<text x="40.10" y="280.80" font-size="6.0" text-anchor="end">3×10<tspan font-size="3.8" dy="-2.4">5</tspan></text>
<rect x="50.00" y="308.06" width="6.20" height="32.34" fill="#1c5a8a"/>
<line x1="53.10" y1="307.76" x2="53.10" y2="308.06" stroke="#231f20" stroke-width="0.7"/>
<line x1="51.90" y1="307.76" x2="54.30" y2="307.76" stroke="#231f20" stroke-width="0.7"/>
<circle cx="51.70" cy="308.56" r="0.75" fill="#231f20" opacity="0.7"/>
<circle cx="54.60" cy="309.26" r="0.75" fill="#231f20" opacity="0.7"/>
<circle cx="53.20" cy="310.66" r="0.75" fill="#231f20" opacity="0.7"/>
<rect x="59.90" y="307.44" width="6.20" height="32.96" fill="#f7901e"/>
<line x1="63.00" y1="306.64" x2="63.00" y2="307.44" stroke="#231f20" stroke-width="0.7"/>
<line x1="61.80" y1="306.64" x2="64.20" y2="306.64" stroke="#231f20" stroke-width="0.7"/>
<circle cx="61.60" cy="307.94" r="0.75" fill="#231f20" opacity="0.7"/>
<circle cx="64.50" cy="308.64" r="0.75" fill="#231f20" opacity="0.7"/>
<circle cx="63.10" cy="310.04" r="0.75" fill="#231f20" opacity="0.7"/>
<rect x="69.80" y="312.59" width="6.20" height="27.81" fill="#8a82c6"/>
<line x1="72.90" y1="310.59" x2="72.90" y2="312.59" stroke="#231f20" stroke-width="0.7"/>
<line x1="71.70" y1="310.59" x2="74.10" y2="310.59" stroke="#231f20" stroke-width="0.7"/>
<circle cx="71.50" cy="313.09" r="0.75" fill="#231f20" opacity="0.7"/>
<circle cx="74.40" cy="313.79" r="0.75" fill="#231f20" opacity="0.7"/>
<circle cx="73.00" cy="315.19" r="0.75" fill="#231f20" opacity="0.7"/>
<line x1="63.00" y1="340.40" x2="63.00" y2="342.60" stroke="#231f20" stroke-width="0.9"/>
<text x="63.00" y="352.20" font-size="6.0" text-anchor="middle">1</text>
<rect x="87.10" y="301.26" width="6.20" height="39.14" fill="#1c5a8a"/>
<line x1="90.20" y1="291.76" x2="90.20" y2="301.26" stroke="#231f20" stroke-width="0.7"/>
<line x1="89.00" y1="291.76" x2="91.40" y2="291.76" stroke="#231f20" stroke-width="0.7"/>
<circle cx="88.80" cy="301.76" r="0.75" fill="#231f20" opacity="0.7"/>
<circle cx="91.70" cy="302.46" r="0.75" fill="#231f20" opacity="0.7"/>
<circle cx="90.30" cy="303.86" r="0.75" fill="#231f20" opacity="0.7"/>
<rect x="97.00" y="331.75" width="6.20" height="8.65" fill="#f7901e"/>
<line x1="100.10" y1="330.75" x2="100.10" y2="331.75" stroke="#231f20" stroke-width="0.7"/>
<line x1="98.90" y1="330.75" x2="101.30" y2="330.75" stroke="#231f20" stroke-width="0.7"/>
<circle cx="98.70" cy="332.25" r="0.75" fill="#231f20" opacity="0.7"/>
<circle cx="101.60" cy="332.95" r="0.75" fill="#231f20" opacity="0.7"/>
<circle cx="100.20" cy="334.35" r="0.75" fill="#231f20" opacity="0.7"/>
<rect x="106.90" y="334.63" width="6.20" height="5.77" fill="#8a82c6"/>
<line x1="110.00" y1="333.63" x2="110.00" y2="334.63" stroke="#231f20" stroke-width="0.7"/>
<line x1="108.80" y1="333.63" x2="111.20" y2="333.63" stroke="#231f20" stroke-width="0.7"/>
<circle cx="108.60" cy="335.13" r="0.75" fill="#231f20" opacity="0.7"/>
<circle cx="111.50" cy="335.83" r="0.75" fill="#231f20" opacity="0.7"/>
<circle cx="110.10" cy="337.23" r="0.75" fill="#231f20" opacity="0.7"/>
<line x1="100.10" y1="340.40" x2="100.10" y2="342.60" stroke="#231f20" stroke-width="0.9"/>
<text x="100.10" y="352.20" font-size="6.0" text-anchor="middle">4</text>
<rect x="124.40" y="288.49" width="6.20" height="51.91" fill="#1c5a8a"/>
<line x1="127.50" y1="286.89" x2="127.50" y2="288.49" stroke="#231f20" stroke-width="0.7"/>
<line x1="126.30" y1="286.89" x2="128.70" y2="286.89" stroke="#231f20" stroke-width="0.7"/>
<circle cx="126.10" cy="288.99" r="0.75" fill="#231f20" opacity="0.7"/>
<circle cx="129.00" cy="289.69" r="0.75" fill="#231f20" opacity="0.7"/>
<circle cx="127.60" cy="291.09" r="0.75" fill="#231f20" opacity="0.7"/>
<rect x="134.30" y="339.78" width="6.20" height="0.62" fill="#f7901e"/>
<circle cx="136.00" cy="340.28" r="0.75" fill="#231f20" opacity="0.7"/>
<circle cx="138.90" cy="340.98" r="0.75" fill="#231f20" opacity="0.7"/>
<circle cx="137.50" cy="342.38" r="0.75" fill="#231f20" opacity="0.7"/>
<rect x="144.20" y="339.78" width="6.20" height="0.62" fill="#8a82c6"/>
<circle cx="145.90" cy="340.28" r="0.75" fill="#231f20" opacity="0.7"/>
<circle cx="148.80" cy="340.98" r="0.75" fill="#231f20" opacity="0.7"/>
<circle cx="147.40" cy="342.38" r="0.75" fill="#231f20" opacity="0.7"/>
<line x1="137.40" y1="340.40" x2="137.40" y2="342.60" stroke="#231f20" stroke-width="0.9"/>
<text x="137.40" y="352.20" font-size="6.0" text-anchor="middle">6</text>
<text x="99.80" y="271.20" font-size="7.9" text-anchor="middle" textLength="26.60" lengthAdjust="spacingAndGlyphs">MV4-11</text>
<text stroke="#231f20" stroke-width="0.18" x="99.90" y="362.80" font-size="7.9" text-anchor="middle" textLength="47.50" lengthAdjust="spacingAndGlyphs">Days post-infection</text>
<text stroke="#231f20" stroke-width="0.18" x="15.60" y="308.60" font-size="7.9" text-anchor="middle" textLength="20.50" lengthAdjust="spacingAndGlyphs" transform="rotate(-90 15.60 308.60)">Cells/ml</text>
<rect x="157.60" y="277.00" width="5.60" height="5.50" fill="#1c5a8a"/>
<text x="166.20" y="281.80" font-size="6.0">shRNA</text>
<rect x="157.60" y="293.50" width="5.60" height="5.50" fill="#f7901e"/>
<text x="166.20" y="298.30" font-size="6.0">shEIF4E_2</text>
<rect x="157.60" y="303.20" width="5.60" height="5.50" fill="#8a82c6"/>
<text x="166.20" y="308.00" font-size="6.0">shEIF4E_1</text>
<text x="166.20" y="289.20" font-size="6.0">Control</text>
<text x="102.50" y="327.50" font-size="6.15" transform="rotate(-90 102.50 327.50)"><tspan font-style="italic">P</tspan> = .0048</text>
<text x="111.60" y="327.50" font-size="6.15" transform="rotate(-90 111.60 327.50)"><tspan font-style="italic">P</tspan> = .0032</text>
<text x="138.90" y="327.50" font-size="6.15" transform="rotate(-90 138.90 327.50)"><tspan font-style="italic">P</tspan> &lt; .0001</text>
<text x="149.50" y="327.50" font-size="6.15" transform="rotate(-90 149.50 327.50)"><tspan font-style="italic">P</tspan> &lt; .0001</text>
<line x1="243.20" y1="277.10" x2="243.20" y2="341.10" stroke="#231f20" stroke-width="1.0"/>
<line x1="242.70" y1="340.60" x2="348.30" y2="340.60" stroke="#231f20" stroke-width="1.0"/>
<line x1="241.00" y1="340.60" x2="243.20" y2="340.60" stroke="#231f20" stroke-width="0.9"/>
<text x="237.60" y="342.80" font-size="6.0" text-anchor="end">0</text>
<line x1="241.00" y1="320.05" x2="243.20" y2="320.05" stroke="#231f20" stroke-width="0.9"/>
<text x="237.10" y="322.25" font-size="6.0" text-anchor="end">1×10<tspan font-size="3.8" dy="-2.4">5</tspan></text>
<line x1="241.00" y1="299.50" x2="243.20" y2="299.50" stroke="#231f20" stroke-width="0.9"/>
<text x="237.10" y="301.70" font-size="6.0" text-anchor="end">2×10<tspan font-size="3.8" dy="-2.4">5</tspan></text>
<line x1="241.00" y1="278.95" x2="243.20" y2="278.95" stroke="#231f20" stroke-width="0.9"/>
<text x="237.10" y="281.15" font-size="6.0" text-anchor="end">3×10<tspan font-size="3.8" dy="-2.4">5</tspan></text>
<rect x="246.90" y="319.43" width="6.20" height="21.17" fill="#1c5a8a"/>
<line x1="250.00" y1="318.93" x2="250.00" y2="319.43" stroke="#231f20" stroke-width="0.7"/>
<line x1="248.80" y1="318.93" x2="251.20" y2="318.93" stroke="#231f20" stroke-width="0.7"/>
<circle cx="248.60" cy="319.93" r="0.75" fill="#231f20" opacity="0.7"/>
<circle cx="251.50" cy="320.63" r="0.75" fill="#231f20" opacity="0.7"/>
<circle cx="250.10" cy="322.03" r="0.75" fill="#231f20" opacity="0.7"/>
<rect x="256.80" y="316.56" width="6.20" height="24.04" fill="#f7901e"/>
<line x1="259.90" y1="316.06" x2="259.90" y2="316.56" stroke="#231f20" stroke-width="0.7"/>
<line x1="258.70" y1="316.06" x2="261.10" y2="316.06" stroke="#231f20" stroke-width="0.7"/>
<circle cx="258.50" cy="317.06" r="0.75" fill="#231f20" opacity="0.7"/>
<circle cx="261.40" cy="317.76" r="0.75" fill="#231f20" opacity="0.7"/>
<circle cx="260.00" cy="319.16" r="0.75" fill="#231f20" opacity="0.7"/>
<rect x="266.70" y="318.61" width="6.20" height="21.99" fill="#8a82c6"/>
<line x1="269.80" y1="318.11" x2="269.80" y2="318.61" stroke="#231f20" stroke-width="0.7"/>
<line x1="268.60" y1="318.11" x2="271.00" y2="318.11" stroke="#231f20" stroke-width="0.7"/>
<circle cx="268.40" cy="319.11" r="0.75" fill="#231f20" opacity="0.7"/>
<circle cx="271.30" cy="319.81" r="0.75" fill="#231f20" opacity="0.7"/>
<circle cx="269.90" cy="321.21" r="0.75" fill="#231f20" opacity="0.7"/>
<line x1="259.90" y1="340.60" x2="259.90" y2="342.80" stroke="#231f20" stroke-width="0.9"/>
<text x="259.90" y="352.40" font-size="6.0" text-anchor="middle">1</text>
<rect x="282.90" y="297.03" width="6.20" height="43.57" fill="#1c5a8a"/>
<line x1="286.00" y1="292.03" x2="286.00" y2="297.03" stroke="#231f20" stroke-width="0.7"/>
<line x1="284.80" y1="292.03" x2="287.20" y2="292.03" stroke="#231f20" stroke-width="0.7"/>
<circle cx="284.60" cy="297.53" r="0.75" fill="#231f20" opacity="0.7"/>
<circle cx="287.50" cy="298.23" r="0.75" fill="#231f20" opacity="0.7"/>
<circle cx="286.10" cy="299.63" r="0.75" fill="#231f20" opacity="0.7"/>
<rect x="292.80" y="312.24" width="6.20" height="28.36" fill="#f7901e"/>
<line x1="295.90" y1="310.24" x2="295.90" y2="312.24" stroke="#231f20" stroke-width="0.7"/>
<line x1="294.70" y1="310.24" x2="297.10" y2="310.24" stroke="#231f20" stroke-width="0.7"/>
<circle cx="294.50" cy="312.74" r="0.75" fill="#231f20" opacity="0.7"/>
<circle cx="297.40" cy="313.44" r="0.75" fill="#231f20" opacity="0.7"/>
<circle cx="296.00" cy="314.84" r="0.75" fill="#231f20" opacity="0.7"/>
<rect x="302.70" y="322.52" width="6.20" height="18.08" fill="#8a82c6"/>
<line x1="305.80" y1="321.02" x2="305.80" y2="322.52" stroke="#231f20" stroke-width="0.7"/>
<line x1="304.60" y1="321.02" x2="307.00" y2="321.02" stroke="#231f20" stroke-width="0.7"/>
<circle cx="304.40" cy="323.02" r="0.75" fill="#231f20" opacity="0.7"/>
<circle cx="307.30" cy="323.72" r="0.75" fill="#231f20" opacity="0.7"/>
<circle cx="305.90" cy="325.12" r="0.75" fill="#231f20" opacity="0.7"/>
<line x1="295.90" y1="340.60" x2="295.90" y2="342.80" stroke="#231f20" stroke-width="0.9"/>
<text x="295.90" y="352.40" font-size="6.0" text-anchor="middle">4</text>
<rect x="318.50" y="315.12" width="6.20" height="25.48" fill="#1c5a8a"/>
<line x1="321.60" y1="308.62" x2="321.60" y2="315.12" stroke="#231f20" stroke-width="0.7"/>
<line x1="320.40" y1="308.62" x2="322.80" y2="308.62" stroke="#231f20" stroke-width="0.7"/>
<circle cx="320.20" cy="315.62" r="0.75" fill="#231f20" opacity="0.7"/>
<circle cx="323.10" cy="316.32" r="0.75" fill="#231f20" opacity="0.7"/>
<circle cx="321.70" cy="317.72" r="0.75" fill="#231f20" opacity="0.7"/>
<rect x="328.40" y="333.00" width="6.20" height="7.60" fill="#f7901e"/>
<line x1="331.50" y1="331.80" x2="331.50" y2="333.00" stroke="#231f20" stroke-width="0.7"/>
<line x1="330.30" y1="331.80" x2="332.70" y2="331.80" stroke="#231f20" stroke-width="0.7"/>
<circle cx="330.10" cy="333.50" r="0.75" fill="#231f20" opacity="0.7"/>
<circle cx="333.00" cy="334.20" r="0.75" fill="#231f20" opacity="0.7"/>
<circle cx="331.60" cy="335.60" r="0.75" fill="#231f20" opacity="0.7"/>
<rect x="338.30" y="337.52" width="6.20" height="3.08" fill="#8a82c6"/>
<line x1="341.40" y1="337.02" x2="341.40" y2="337.52" stroke="#231f20" stroke-width="0.7"/>
<line x1="340.20" y1="337.02" x2="342.60" y2="337.02" stroke="#231f20" stroke-width="0.7"/>
<circle cx="340.00" cy="338.02" r="0.75" fill="#231f20" opacity="0.7"/>
<circle cx="342.90" cy="338.72" r="0.75" fill="#231f20" opacity="0.7"/>
<circle cx="341.50" cy="340.12" r="0.75" fill="#231f20" opacity="0.7"/>
<line x1="331.50" y1="340.60" x2="331.50" y2="342.80" stroke="#231f20" stroke-width="0.9"/>
<text x="331.50" y="352.40" font-size="6.0" text-anchor="middle">6</text>
<text x="295.30" y="271.30" font-size="7.9" text-anchor="middle" textLength="20.60" lengthAdjust="spacingAndGlyphs">SHI-1</text>
<text stroke="#231f20" stroke-width="0.18" x="295.70" y="363.00" font-size="7.9" text-anchor="middle" textLength="47.50" lengthAdjust="spacingAndGlyphs">Days post-infection</text>
<text stroke="#231f20" stroke-width="0.18" x="216.10" y="308.30" font-size="7.9" text-anchor="middle" textLength="20.50" lengthAdjust="spacingAndGlyphs" transform="rotate(-90 216.10 308.30)">Cells/ml</text>
<rect x="351.20" y="277.00" width="5.60" height="5.50" fill="#1c5a8a"/>
<text x="359.80" y="281.80" font-size="6.0">shRNA</text>
<rect x="351.20" y="293.50" width="5.60" height="5.50" fill="#f7901e"/>
<text x="359.80" y="298.30" font-size="6.0">shEIF4E_2</text>
<rect x="351.20" y="303.20" width="5.60" height="5.50" fill="#8a82c6"/>
<text x="359.80" y="308.00" font-size="6.0">shEIF4E_1</text>
<text x="359.80" y="289.20" font-size="6.0">Control</text>
<text x="296.40" y="307.60" font-size="6.15" transform="rotate(-90 296.40 307.60)"><tspan font-style="italic">P</tspan> = .0056</text>
<text x="306.70" y="307.80" font-size="6.15" transform="rotate(-90 306.70 307.80)"><tspan font-style="italic">P</tspan> = .0007</text>
<text x="332.10" y="327.60" font-size="6.15" transform="rotate(-90 332.10 327.60)"><tspan font-style="italic">P</tspan> = .0049</text>
<text x="342.20" y="327.50" font-size="6.15" transform="rotate(-90 342.20 327.50)"><tspan font-style="italic">P</tspan> = .0014</text>
<line x1="46.20" y1="396.20" x2="46.20" y2="460.20" stroke="#231f20" stroke-width="1.0"/>
<line x1="45.70" y1="459.70" x2="154.00" y2="459.70" stroke="#231f20" stroke-width="1.0"/>
<line x1="44.00" y1="459.70" x2="46.20" y2="459.70" stroke="#231f20" stroke-width="0.9"/>
<text x="40.60" y="461.90" font-size="6.0" text-anchor="end">0</text>
<line x1="44.00" y1="439.75" x2="46.20" y2="439.75" stroke="#231f20" stroke-width="0.9"/>
<text x="40.10" y="441.95" font-size="6.0" text-anchor="end">5×10<tspan font-size="3.8" dy="-2.4">4</tspan></text>
<line x1="44.00" y1="419.80" x2="46.20" y2="419.80" stroke="#231f20" stroke-width="0.9"/>
<text x="40.10" y="422.00" font-size="6.0" text-anchor="end">1×10<tspan font-size="3.8" dy="-2.4">5</tspan></text>
<line x1="44.00" y1="399.85" x2="46.20" y2="399.85" stroke="#231f20" stroke-width="0.9"/>
<text x="40.10" y="402.05" font-size="6.0" text-anchor="end">1.5×10<tspan font-size="3.8" dy="-2.4">5</tspan></text>
<rect x="49.70" y="427.38" width="6.20" height="32.32" fill="#1c5a8a"/>
<line x1="52.80" y1="426.88" x2="52.80" y2="427.38" stroke="#231f20" stroke-width="0.7"/>
<line x1="51.60" y1="426.88" x2="54.00" y2="426.88" stroke="#231f20" stroke-width="0.7"/>
<circle cx="51.40" cy="427.88" r="0.75" fill="#231f20" opacity="0.7"/>
<circle cx="54.30" cy="428.58" r="0.75" fill="#231f20" opacity="0.7"/>
<circle cx="52.90" cy="429.98" r="0.75" fill="#231f20" opacity="0.7"/>
<rect x="59.60" y="432.57" width="6.20" height="27.13" fill="#f7901e"/>
<line x1="62.70" y1="432.07" x2="62.70" y2="432.57" stroke="#231f20" stroke-width="0.7"/>
<line x1="61.50" y1="432.07" x2="63.90" y2="432.07" stroke="#231f20" stroke-width="0.7"/>
<circle cx="61.30" cy="433.07" r="0.75" fill="#231f20" opacity="0.7"/>
<circle cx="64.20" cy="433.77" r="0.75" fill="#231f20" opacity="0.7"/>
<circle cx="62.80" cy="435.17" r="0.75" fill="#231f20" opacity="0.7"/>
<rect x="69.50" y="432.57" width="6.20" height="27.13" fill="#8a82c6"/>
<line x1="72.60" y1="429.07" x2="72.60" y2="432.57" stroke="#231f20" stroke-width="0.7"/>
<line x1="71.40" y1="429.07" x2="73.80" y2="429.07" stroke="#231f20" stroke-width="0.7"/>
<circle cx="71.20" cy="433.07" r="0.75" fill="#231f20" opacity="0.7"/>
<circle cx="74.10" cy="433.77" r="0.75" fill="#231f20" opacity="0.7"/>
<circle cx="72.70" cy="435.17" r="0.75" fill="#231f20" opacity="0.7"/>
<line x1="62.70" y1="459.70" x2="62.70" y2="461.90" stroke="#231f20" stroke-width="0.9"/>
<text x="62.70" y="471.50" font-size="6.0" text-anchor="middle">1</text>
<rect x="87.10" y="434.56" width="6.20" height="25.14" fill="#1c5a8a"/>
<line x1="90.20" y1="430.56" x2="90.20" y2="434.56" stroke="#231f20" stroke-width="0.7"/>
<line x1="89.00" y1="430.56" x2="91.40" y2="430.56" stroke="#231f20" stroke-width="0.7"/>
<circle cx="88.80" cy="435.06" r="0.75" fill="#231f20" opacity="0.7"/>
<circle cx="91.70" cy="435.76" r="0.75" fill="#231f20" opacity="0.7"/>
<circle cx="90.30" cy="437.16" r="0.75" fill="#231f20" opacity="0.7"/>
<rect x="97.00" y="427.78" width="6.20" height="31.92" fill="#f7901e"/>
<line x1="100.10" y1="427.28" x2="100.10" y2="427.78" stroke="#231f20" stroke-width="0.7"/>
<line x1="98.90" y1="427.28" x2="101.30" y2="427.28" stroke="#231f20" stroke-width="0.7"/>
<circle cx="98.70" cy="428.28" r="0.75" fill="#231f20" opacity="0.7"/>
<circle cx="101.60" cy="428.98" r="0.75" fill="#231f20" opacity="0.7"/>
<circle cx="100.20" cy="430.38" r="0.75" fill="#231f20" opacity="0.7"/>
<rect x="106.90" y="432.57" width="6.20" height="27.13" fill="#8a82c6"/>
<line x1="110.00" y1="429.07" x2="110.00" y2="432.57" stroke="#231f20" stroke-width="0.7"/>
<line x1="108.80" y1="429.07" x2="111.20" y2="429.07" stroke="#231f20" stroke-width="0.7"/>
<circle cx="108.60" cy="433.07" r="0.75" fill="#231f20" opacity="0.7"/>
<circle cx="111.50" cy="433.77" r="0.75" fill="#231f20" opacity="0.7"/>
<circle cx="110.10" cy="435.17" r="0.75" fill="#231f20" opacity="0.7"/>
<line x1="100.10" y1="459.70" x2="100.10" y2="461.90" stroke="#231f20" stroke-width="0.9"/>
<text x="100.10" y="471.50" font-size="6.0" text-anchor="middle">4</text>
<rect x="124.30" y="426.18" width="6.20" height="33.52" fill="#1c5a8a"/>
<line x1="127.40" y1="421.68" x2="127.40" y2="426.18" stroke="#231f20" stroke-width="0.7"/>
<line x1="126.20" y1="421.68" x2="128.60" y2="421.68" stroke="#231f20" stroke-width="0.7"/>
<circle cx="126.00" cy="426.68" r="0.75" fill="#231f20" opacity="0.7"/>
<circle cx="128.90" cy="427.38" r="0.75" fill="#231f20" opacity="0.7"/>
<circle cx="127.50" cy="428.78" r="0.75" fill="#231f20" opacity="0.7"/>
<rect x="134.20" y="432.97" width="6.20" height="26.73" fill="#f7901e"/>
<line x1="137.30" y1="429.97" x2="137.30" y2="432.97" stroke="#231f20" stroke-width="0.7"/>
<line x1="136.10" y1="429.97" x2="138.50" y2="429.97" stroke="#231f20" stroke-width="0.7"/>
<circle cx="135.90" cy="433.47" r="0.75" fill="#231f20" opacity="0.7"/>
<circle cx="138.80" cy="434.17" r="0.75" fill="#231f20" opacity="0.7"/>
<circle cx="137.40" cy="435.57" r="0.75" fill="#231f20" opacity="0.7"/>
<rect x="144.10" y="438.55" width="6.20" height="21.15" fill="#8a82c6"/>
<line x1="147.20" y1="435.55" x2="147.20" y2="438.55" stroke="#231f20" stroke-width="0.7"/>
<line x1="146.00" y1="435.55" x2="148.40" y2="435.55" stroke="#231f20" stroke-width="0.7"/>
<circle cx="145.80" cy="439.05" r="0.75" fill="#231f20" opacity="0.7"/>
<circle cx="148.70" cy="439.75" r="0.75" fill="#231f20" opacity="0.7"/>
<circle cx="147.30" cy="441.15" r="0.75" fill="#231f20" opacity="0.7"/>
<line x1="137.30" y1="459.70" x2="137.30" y2="461.90" stroke="#231f20" stroke-width="0.9"/>
<text x="137.30" y="471.50" font-size="6.0" text-anchor="middle">6</text>
<text x="99.60" y="383.90" font-size="7.9" text-anchor="middle" textLength="30.80" lengthAdjust="spacingAndGlyphs">Kasumi-1</text>
<text stroke="#231f20" stroke-width="0.18" x="99.90" y="482.10" font-size="7.9" text-anchor="middle" textLength="47.50" lengthAdjust="spacingAndGlyphs">Days post-infection</text>
<text stroke="#231f20" stroke-width="0.18" x="14.40" y="429.20" font-size="7.9" text-anchor="middle" textLength="20.50" lengthAdjust="spacingAndGlyphs" transform="rotate(-90 14.40 429.20)">Cells/ml</text>
<rect x="157.90" y="398.30" width="5.60" height="5.50" fill="#1c5a8a"/>
<text x="166.50" y="403.10" font-size="6.0">shRNA</text>
<rect x="157.90" y="414.80" width="5.60" height="5.50" fill="#f7901e"/>
<text x="166.50" y="419.60" font-size="6.0">shEIF4E_2</text>
<rect x="157.90" y="424.50" width="5.60" height="5.50" fill="#8a82c6"/>
<text x="166.50" y="429.30" font-size="6.0">shEIF4E_1</text>
<text x="166.50" y="410.50" font-size="6.0">Control</text>
<text x="149.30" y="433.80" font-size="6.15" transform="rotate(-90 149.30 433.80)"><tspan font-style="italic">P</tspan> = .0064</text>
<text x="102.20" y="426.00" font-size="5.6" transform="rotate(-90 102.20 426.00)">ns</text>
<text x="112.00" y="427.00" font-size="5.6" transform="rotate(-90 112.00 427.00)">ns</text>
<text x="138.30" y="428.40" font-size="5.6" transform="rotate(-90 138.30 428.40)">ns</text>
<line x1="243.30" y1="396.10" x2="243.30" y2="460.10" stroke="#231f20" stroke-width="1.0"/>
<line x1="242.80" y1="459.60" x2="347.70" y2="459.60" stroke="#231f20" stroke-width="1.0"/>
<line x1="241.10" y1="459.60" x2="243.30" y2="459.60" stroke="#231f20" stroke-width="0.9"/>
<text x="237.70" y="461.80" font-size="6.0" text-anchor="end">0</text>
<line x1="241.10" y1="439.75" x2="243.30" y2="439.75" stroke="#231f20" stroke-width="0.9"/>
<text x="237.20" y="441.95" font-size="6.0" text-anchor="end">5×10<tspan font-size="3.8" dy="-2.4">5</tspan></text>
<line x1="241.10" y1="419.90" x2="243.30" y2="419.90" stroke="#231f20" stroke-width="0.9"/>
<text x="237.20" y="422.10" font-size="6.0" text-anchor="end">1×10<tspan font-size="3.8" dy="-2.4">6</tspan></text>
<line x1="241.10" y1="400.05" x2="243.30" y2="400.05" stroke="#231f20" stroke-width="0.9"/>
<text x="237.20" y="402.25" font-size="6.0" text-anchor="end">1.5×10<tspan font-size="3.8" dy="-2.4">6</tspan></text>
<rect x="247.10" y="433.80" width="6.20" height="25.81" fill="#1c5a8a"/>
<line x1="250.20" y1="433.30" x2="250.20" y2="433.80" stroke="#231f20" stroke-width="0.7"/>
<line x1="249.00" y1="433.30" x2="251.40" y2="433.30" stroke="#231f20" stroke-width="0.7"/>
<circle cx="248.80" cy="434.30" r="0.75" fill="#231f20" opacity="0.7"/>
<circle cx="251.70" cy="435.00" r="0.75" fill="#231f20" opacity="0.7"/>
<circle cx="250.30" cy="436.40" r="0.75" fill="#231f20" opacity="0.7"/>
<rect x="257.00" y="437.77" width="6.20" height="21.84" fill="#f7901e"/>
<line x1="260.10" y1="437.27" x2="260.10" y2="437.77" stroke="#231f20" stroke-width="0.7"/>
<line x1="258.90" y1="437.27" x2="261.30" y2="437.27" stroke="#231f20" stroke-width="0.7"/>
<circle cx="258.70" cy="438.27" r="0.75" fill="#231f20" opacity="0.7"/>
<circle cx="261.60" cy="438.97" r="0.75" fill="#231f20" opacity="0.7"/>
<circle cx="260.20" cy="440.37" r="0.75" fill="#231f20" opacity="0.7"/>
<rect x="266.90" y="437.37" width="6.20" height="22.23" fill="#8a82c6"/>
<line x1="270.00" y1="435.37" x2="270.00" y2="437.37" stroke="#231f20" stroke-width="0.7"/>
<line x1="268.80" y1="435.37" x2="271.20" y2="435.37" stroke="#231f20" stroke-width="0.7"/>
<circle cx="268.60" cy="437.87" r="0.75" fill="#231f20" opacity="0.7"/>
<circle cx="271.50" cy="438.57" r="0.75" fill="#231f20" opacity="0.7"/>
<circle cx="270.10" cy="439.97" r="0.75" fill="#231f20" opacity="0.7"/>
<line x1="260.10" y1="459.60" x2="260.10" y2="461.80" stroke="#231f20" stroke-width="0.9"/>
<text x="260.10" y="471.40" font-size="6.0" text-anchor="middle">1</text>
<rect x="282.70" y="424.66" width="6.20" height="34.94" fill="#1c5a8a"/>
<line x1="285.80" y1="423.66" x2="285.80" y2="424.66" stroke="#231f20" stroke-width="0.7"/>
<line x1="284.60" y1="423.66" x2="287.00" y2="423.66" stroke="#231f20" stroke-width="0.7"/>
<circle cx="284.40" cy="425.16" r="0.75" fill="#231f20" opacity="0.7"/>
<circle cx="287.30" cy="425.86" r="0.75" fill="#231f20" opacity="0.7"/>
<circle cx="285.90" cy="427.26" r="0.75" fill="#231f20" opacity="0.7"/>
<rect x="292.60" y="437.37" width="6.20" height="22.23" fill="#f7901e"/>
<line x1="295.70" y1="436.37" x2="295.70" y2="437.37" stroke="#231f20" stroke-width="0.7"/>
<line x1="294.50" y1="436.37" x2="296.90" y2="436.37" stroke="#231f20" stroke-width="0.7"/>
<circle cx="294.30" cy="437.87" r="0.75" fill="#231f20" opacity="0.7"/>
<circle cx="297.20" cy="438.57" r="0.75" fill="#231f20" opacity="0.7"/>
<circle cx="295.80" cy="439.97" r="0.75" fill="#231f20" opacity="0.7"/>
<rect x="302.50" y="429.63" width="6.20" height="29.97" fill="#8a82c6"/>
<line x1="305.60" y1="426.63" x2="305.60" y2="429.63" stroke="#231f20" stroke-width="0.7"/>
<line x1="304.40" y1="426.63" x2="306.80" y2="426.63" stroke="#231f20" stroke-width="0.7"/>
<circle cx="304.20" cy="430.13" r="0.75" fill="#231f20" opacity="0.7"/>
<circle cx="307.10" cy="430.83" r="0.75" fill="#231f20" opacity="0.7"/>
<circle cx="305.70" cy="432.23" r="0.75" fill="#231f20" opacity="0.7"/>
<line x1="295.70" y1="459.60" x2="295.70" y2="461.80" stroke="#231f20" stroke-width="0.9"/>
<text x="295.70" y="471.40" font-size="6.0" text-anchor="middle">4</text>
<rect x="318.30" y="407.59" width="6.20" height="52.01" fill="#1c5a8a"/>
<line x1="321.40" y1="405.09" x2="321.40" y2="407.59" stroke="#231f20" stroke-width="0.7"/>
<line x1="320.20" y1="405.09" x2="322.60" y2="405.09" stroke="#231f20" stroke-width="0.7"/>
<circle cx="320.00" cy="408.09" r="0.75" fill="#231f20" opacity="0.7"/>
<circle cx="322.90" cy="408.79" r="0.75" fill="#231f20" opacity="0.7"/>
<circle cx="321.50" cy="410.19" r="0.75" fill="#231f20" opacity="0.7"/>
<rect x="328.20" y="417.92" width="6.20" height="41.69" fill="#f7901e"/>
<line x1="331.30" y1="416.42" x2="331.30" y2="417.92" stroke="#231f20" stroke-width="0.7"/>
<line x1="330.10" y1="416.42" x2="332.50" y2="416.42" stroke="#231f20" stroke-width="0.7"/>
<circle cx="329.90" cy="418.42" r="0.75" fill="#231f20" opacity="0.7"/>
<circle cx="332.80" cy="419.12" r="0.75" fill="#231f20" opacity="0.7"/>
<circle cx="331.40" cy="420.52" r="0.75" fill="#231f20" opacity="0.7"/>
<rect x="338.10" y="419.11" width="6.20" height="40.49" fill="#8a82c6"/>
<line x1="341.20" y1="416.11" x2="341.20" y2="419.11" stroke="#231f20" stroke-width="0.7"/>
<line x1="340.00" y1="416.11" x2="342.40" y2="416.11" stroke="#231f20" stroke-width="0.7"/>
<circle cx="339.80" cy="419.61" r="0.75" fill="#231f20" opacity="0.7"/>
<circle cx="342.70" cy="420.31" r="0.75" fill="#231f20" opacity="0.7"/>
<circle cx="341.30" cy="421.71" r="0.75" fill="#231f20" opacity="0.7"/>
<line x1="331.30" y1="459.60" x2="331.30" y2="461.80" stroke="#231f20" stroke-width="0.9"/>
<text x="331.30" y="471.40" font-size="6.0" text-anchor="middle">6</text>
<text x="295.60" y="384.00" font-size="7.9" text-anchor="middle" textLength="22.10" lengthAdjust="spacingAndGlyphs">HL-60</text>
<text stroke="#231f20" stroke-width="0.18" x="295.50" y="482.00" font-size="7.9" text-anchor="middle" textLength="47.50" lengthAdjust="spacingAndGlyphs">Days post-infection</text>
<text stroke="#231f20" stroke-width="0.18" x="210.30" y="430.80" font-size="7.9" text-anchor="middle" textLength="20.50" lengthAdjust="spacingAndGlyphs" transform="rotate(-90 210.30 430.80)">Cells/ml</text>
<rect x="351.10" y="398.10" width="5.60" height="5.50" fill="#1c5a8a"/>
<text x="359.70" y="402.90" font-size="6.0">shRNA</text>
<rect x="351.10" y="414.60" width="5.60" height="5.50" fill="#f7901e"/>
<text x="359.70" y="419.40" font-size="6.0">shEIF4E_2</text>
<rect x="351.10" y="424.30" width="5.60" height="5.50" fill="#8a82c6"/>
<text x="359.70" y="429.10" font-size="6.0">shEIF4E_1</text>
<text x="359.70" y="410.30" font-size="6.0">Control</text>
<text x="296.80" y="425.00" font-size="6.15" transform="rotate(-90 296.80 425.00)"><tspan font-style="italic">P</tspan> = .0463</text>
<text x="307.00" y="426.00" font-size="6.15" transform="rotate(-90 307.00 426.00)"><tspan font-style="italic">P</tspan> = .0026</text>
<text x="332.50" y="412.00" font-size="6.15" transform="rotate(-90 332.50 412.00)"><tspan font-style="italic">P</tspan> = .0076</text>
<text x="342.80" y="412.20" font-size="6.15" transform="rotate(-90 342.80 412.20)"><tspan font-style="italic">P</tspan> = .0031</text>
<rect x="418.00" y="302.10" width="37.00" height="11.30" fill="#c4c4c4"/>
<rect x="418.00" y="316.00" width="37.00" height="11.30" fill="#c6c6c6"/>
<rect x="417.60" y="305.06" width="11.20" height="3.80" rx="1.90" fill="#1a1a1a" opacity="1.0" filter="url(#blur1)"/>
<rect x="417.80" y="309.04" width="10.80" height="2.40" rx="1.20" fill="#2e2e2e" opacity="0.7" filter="url(#blur1)"/>
<rect x="417.20" y="319.85" width="12.00" height="3.60" rx="1.80" fill="#1e1e1e" opacity="0.9" filter="url(#blur1)"/>
<rect x="430.30" y="305.06" width="11.20" height="3.80" rx="1.90" fill="#1a1a1a" opacity="0.2" filter="url(#blur1)"/>
<rect x="430.50" y="309.04" width="10.80" height="2.40" rx="1.20" fill="#2e2e2e" opacity="0.06" filter="url(#blur1)"/>
<rect x="429.90" y="319.85" width="12.00" height="3.60" rx="1.80" fill="#1e1e1e" opacity="0.88" filter="url(#blur1)"/>
<rect x="443.00" y="305.06" width="11.20" height="3.80" rx="1.90" fill="#1a1a1a" opacity="0.13" filter="url(#blur1)"/>
<rect x="443.20" y="309.04" width="10.80" height="2.40" rx="1.20" fill="#2e2e2e" opacity="0.05" filter="url(#blur1)"/>
<rect x="442.60" y="319.85" width="12.00" height="3.60" rx="1.80" fill="#1e1e1e" opacity="0.62" filter="url(#blur1)"/>
<rect x="457.60" y="302.10" width="37.00" height="11.30" fill="#c4c4c4"/>
<rect x="457.60" y="316.00" width="37.00" height="11.30" fill="#c6c6c6"/>
<rect x="457.20" y="305.06" width="11.20" height="3.80" rx="1.90" fill="#1a1a1a" opacity="1.0" filter="url(#blur1)"/>
<rect x="457.40" y="309.04" width="10.80" height="2.40" rx="1.20" fill="#2e2e2e" opacity="0.55" filter="url(#blur1)"/>
<rect x="456.80" y="319.85" width="12.00" height="3.60" rx="1.80" fill="#1e1e1e" opacity="1.0" filter="url(#blur1)"/>
<rect x="469.90" y="305.06" width="11.20" height="3.80" rx="1.90" fill="#1a1a1a" opacity="0.55" filter="url(#blur1)"/>
<rect x="470.10" y="309.04" width="10.80" height="2.40" rx="1.20" fill="#2e2e2e" opacity="0.12" filter="url(#blur1)"/>
<rect x="469.50" y="319.85" width="12.00" height="3.60" rx="1.80" fill="#1e1e1e" opacity="1.0" filter="url(#blur1)"/>
<rect x="482.60" y="305.06" width="11.20" height="3.80" rx="1.90" fill="#1a1a1a" opacity="0.6" filter="url(#blur1)"/>
<rect x="482.80" y="309.04" width="10.80" height="2.40" rx="1.20" fill="#2e2e2e" opacity="0.15" filter="url(#blur1)"/>
<rect x="482.20" y="319.85" width="12.00" height="3.60" rx="1.80" fill="#1e1e1e" opacity="1.0" filter="url(#blur1)"/>
<text x="398.80" y="310.20" font-size="6.0" textLength="15.20" lengthAdjust="spacingAndGlyphs">eIF4E</text>
<text x="398.80" y="324.30" font-size="6.0" textLength="15.60" lengthAdjust="spacingAndGlyphs">β-actin</text>
<text x="436.40" y="336.20" font-size="6.2" text-anchor="middle">MV4-11</text>
<text x="476.20" y="336.20" font-size="6.2" text-anchor="middle">SHI-1</text>
<text x="423.20" y="297.50" font-size="5.9" transform="rotate(-45 423.20 297.50)">shRNA control</text>
<text x="435.90" y="297.50" font-size="5.9" transform="rotate(-45 435.90 297.50)">shEIF4E_1</text>
<text x="448.60" y="297.50" font-size="5.9" transform="rotate(-45 448.60 297.50)">shEIF4E_2</text>
<text x="462.80" y="297.50" font-size="5.9" transform="rotate(-45 462.80 297.50)">shRNA control</text>
<text x="475.50" y="297.50" font-size="5.9" transform="rotate(-45 475.50 297.50)">shEIF4E_1</text>
<text x="488.20" y="297.50" font-size="5.9" transform="rotate(-45 488.20 297.50)">shEIF4E_2</text>
<rect x="418.00" y="424.00" width="37.00" height="10.50" fill="#c4c4c4"/>
<rect x="418.00" y="436.80" width="37.00" height="10.90" fill="#c6c6c6"/>
<rect x="417.60" y="426.62" width="11.20" height="3.80" rx="1.90" fill="#1a1a1a" opacity="0.42" filter="url(#blur1)"/>
<rect x="417.80" y="430.36" width="10.80" height="2.40" rx="1.20" fill="#2e2e2e" opacity="0.3" filter="url(#blur1)"/>
<rect x="417.20" y="440.45" width="12.00" height="3.60" rx="1.80" fill="#1e1e1e" opacity="0.8" filter="url(#blur1)"/>
<rect x="430.30" y="426.62" width="11.20" height="3.80" rx="1.90" fill="#1a1a1a" opacity="0.04" filter="url(#blur1)"/>
<rect x="430.50" y="430.36" width="10.80" height="2.40" rx="1.20" fill="#2e2e2e" opacity="0.03" filter="url(#blur1)"/>
<rect x="429.90" y="440.45" width="12.00" height="3.60" rx="1.80" fill="#1e1e1e" opacity="0.88" filter="url(#blur1)"/>
<rect x="443.00" y="426.62" width="11.20" height="3.80" rx="1.90" fill="#1a1a1a" opacity="0.06" filter="url(#blur1)"/>
<rect x="443.20" y="430.36" width="10.80" height="2.40" rx="1.20" fill="#2e2e2e" opacity="0.03" filter="url(#blur1)"/>
<rect x="442.60" y="440.45" width="12.00" height="3.60" rx="1.80" fill="#1e1e1e" opacity="0.95" filter="url(#blur1)"/>
<rect x="457.60" y="424.00" width="37.00" height="10.50" fill="#c4c4c4"/>
<rect x="457.60" y="436.80" width="37.00" height="10.90" fill="#c6c6c6"/>
<rect x="457.20" y="426.62" width="11.20" height="3.80" rx="1.90" fill="#1a1a1a" opacity="1.0" filter="url(#blur1)"/>
<rect x="457.40" y="430.36" width="10.80" height="2.40" rx="1.20" fill="#2e2e2e" opacity="0.8" filter="url(#blur1)"/>
<rect x="456.80" y="440.45" width="12.00" height="3.60" rx="1.80" fill="#1e1e1e" opacity="1.0" filter="url(#blur1)"/>
<rect x="469.90" y="426.62" width="11.20" height="3.80" rx="1.90" fill="#1a1a1a" opacity="0.42" filter="url(#blur1)"/>
<rect x="470.10" y="430.36" width="10.80" height="2.40" rx="1.20" fill="#2e2e2e" opacity="0.08" filter="url(#blur1)"/>
<rect x="469.50" y="440.45" width="12.00" height="3.60" rx="1.80" fill="#1e1e1e" opacity="1.0" filter="url(#blur1)"/>
<rect x="482.60" y="426.62" width="11.20" height="3.80" rx="1.90" fill="#1a1a1a" opacity="0.45" filter="url(#blur1)"/>
<rect x="482.80" y="430.36" width="10.80" height="2.40" rx="1.20" fill="#2e2e2e" opacity="0.1" filter="url(#blur1)"/>
<rect x="482.20" y="440.45" width="12.00" height="3.60" rx="1.80" fill="#1e1e1e" opacity="1.0" filter="url(#blur1)"/>
<text x="398.80" y="431.60" font-size="6.0" textLength="15.20" lengthAdjust="spacingAndGlyphs">eIF4E</text>
<text x="398.80" y="444.30" font-size="6.0" textLength="15.60" lengthAdjust="spacingAndGlyphs">β-actin</text>
<text x="436.40" y="455.90" font-size="6.2" text-anchor="middle">Kasumi-1</text>
<text x="476.20" y="455.90" font-size="6.2" text-anchor="middle">HL-60</text>
<text x="423.20" y="419.40" font-size="5.9" transform="rotate(-45 423.20 419.40)">shRNA control</text>
<text x="435.90" y="419.40" font-size="5.9" transform="rotate(-45 435.90 419.40)">shEIF4E_1</text>
<text x="448.60" y="419.40" font-size="5.9" transform="rotate(-45 448.60 419.40)">shEIF4E_2</text>
<text x="462.80" y="419.40" font-size="5.9" transform="rotate(-45 462.80 419.40)">shRNA control</text>
<text x="475.50" y="419.40" font-size="5.9" transform="rotate(-45 475.50 419.40)">shEIF4E_1</text>
<text x="488.20" y="419.40" font-size="5.9" transform="rotate(-45 488.20 419.40)">shEIF4E_2</text>
<text x="6.40" y="509.00" font-size="10.2" font-weight="bold" fill="#000">G</text>
<line x1="34.60" y1="526.30" x2="34.60" y2="594.80" stroke="#231f20" stroke-width="1.0"/>
<line x1="34.10" y1="594.30" x2="153.60" y2="594.30" stroke="#231f20" stroke-width="1.0"/>
<line x1="32.40" y1="594.30" x2="34.60" y2="594.30" stroke="#231f20" stroke-width="0.9"/>
<text x="29.40" y="596.40" font-size="6.0" text-anchor="end">0</text>
<line x1="32.40" y1="583.25" x2="34.60" y2="583.25" stroke="#231f20" stroke-width="0.9"/>
<text x="29.40" y="585.35" font-size="6.0" text-anchor="end">20</text>
<line x1="32.40" y1="572.20" x2="34.60" y2="572.20" stroke="#231f20" stroke-width="0.9"/>
<text x="29.40" y="574.30" font-size="6.0" text-anchor="end">40</text>
<line x1="32.40" y1="561.15" x2="34.60" y2="561.15" stroke="#231f20" stroke-width="0.9"/>
<text x="29.40" y="563.25" font-size="6.0" text-anchor="end">60</text>
<line x1="32.40" y1="550.10" x2="34.60" y2="550.10" stroke="#231f20" stroke-width="0.9"/>
<text x="29.40" y="552.20" font-size="6.0" text-anchor="end">80</text>
<line x1="32.40" y1="539.05" x2="34.60" y2="539.05" stroke="#231f20" stroke-width="0.9"/>
<text x="29.40" y="541.15" font-size="6.0" text-anchor="end">100</text>
<line x1="32.40" y1="528.00" x2="34.60" y2="528.00" stroke="#231f20" stroke-width="0.9"/>
<text x="29.40" y="530.10" font-size="6.0" text-anchor="end">120</text>
<line x1="34.60" y1="594.30" x2="34.60" y2="596.60" stroke="#231f20" stroke-width="0.9"/>
<text x="34.80" y="605.90" font-size="6.0" text-anchor="middle">10<tspan font-size="3.8" dy="-2.6">−1</tspan></text>
<line x1="44.26" y1="594.30" x2="44.26" y2="595.50" stroke="#231f20" stroke-width="0.7"/>
<line x1="49.92" y1="594.30" x2="49.92" y2="595.50" stroke="#231f20" stroke-width="0.7"/>
<line x1="53.93" y1="594.30" x2="53.93" y2="595.50" stroke="#231f20" stroke-width="0.7"/>
<line x1="57.04" y1="594.30" x2="57.04" y2="595.50" stroke="#231f20" stroke-width="0.7"/>
<line x1="59.58" y1="594.30" x2="59.58" y2="595.50" stroke="#231f20" stroke-width="0.7"/>
<line x1="61.73" y1="594.30" x2="61.73" y2="595.50" stroke="#231f20" stroke-width="0.7"/>
<line x1="63.59" y1="594.30" x2="63.59" y2="595.50" stroke="#231f20" stroke-width="0.7"/>
<line x1="65.23" y1="594.30" x2="65.23" y2="595.50" stroke="#231f20" stroke-width="0.7"/>
<line x1="66.70" y1="594.30" x2="66.70" y2="596.60" stroke="#231f20" stroke-width="0.9"/>
<text x="66.90" y="605.90" font-size="6.0" text-anchor="middle">10<tspan font-size="3.8" dy="-2.6">0</tspan></text>
<line x1="76.36" y1="594.30" x2="76.36" y2="595.50" stroke="#231f20" stroke-width="0.7"/>
<line x1="82.02" y1="594.30" x2="82.02" y2="595.50" stroke="#231f20" stroke-width="0.7"/>
<line x1="86.03" y1="594.30" x2="86.03" y2="595.50" stroke="#231f20" stroke-width="0.7"/>
<line x1="89.14" y1="594.30" x2="89.14" y2="595.50" stroke="#231f20" stroke-width="0.7"/>
<line x1="91.68" y1="594.30" x2="91.68" y2="595.50" stroke="#231f20" stroke-width="0.7"/>
<line x1="93.83" y1="594.30" x2="93.83" y2="595.50" stroke="#231f20" stroke-width="0.7"/>
<line x1="95.69" y1="594.30" x2="95.69" y2="595.50" stroke="#231f20" stroke-width="0.7"/>
<line x1="97.33" y1="594.30" x2="97.33" y2="595.50" stroke="#231f20" stroke-width="0.7"/>
<line x1="98.80" y1="594.30" x2="98.80" y2="596.60" stroke="#231f20" stroke-width="0.9"/>
<text x="99.00" y="605.90" font-size="6.0" text-anchor="middle">10<tspan font-size="3.8" dy="-2.6">1</tspan></text>
<line x1="108.46" y1="594.30" x2="108.46" y2="595.50" stroke="#231f20" stroke-width="0.7"/>
<line x1="114.12" y1="594.30" x2="114.12" y2="595.50" stroke="#231f20" stroke-width="0.7"/>
<line x1="118.13" y1="594.30" x2="118.13" y2="595.50" stroke="#231f20" stroke-width="0.7"/>
<line x1="121.24" y1="594.30" x2="121.24" y2="595.50" stroke="#231f20" stroke-width="0.7"/>
<line x1="123.78" y1="594.30" x2="123.78" y2="595.50" stroke="#231f20" stroke-width="0.7"/>
<line x1="125.93" y1="594.30" x2="125.93" y2="595.50" stroke="#231f20" stroke-width="0.7"/>
<line x1="127.79" y1="594.30" x2="127.79" y2="595.50" stroke="#231f20" stroke-width="0.7"/>
<line x1="129.43" y1="594.30" x2="129.43" y2="595.50" stroke="#231f20" stroke-width="0.7"/>
<line x1="130.90" y1="594.30" x2="130.90" y2="596.60" stroke="#231f20" stroke-width="0.9"/>
<text x="131.10" y="605.90" font-size="6.0" text-anchor="middle">10<tspan font-size="3.8" dy="-2.6">2</tspan></text>
<line x1="140.56" y1="594.30" x2="140.56" y2="595.50" stroke="#231f20" stroke-width="0.7"/>
<line x1="146.22" y1="594.30" x2="146.22" y2="595.50" stroke="#231f20" stroke-width="0.7"/>
<line x1="150.23" y1="594.30" x2="150.23" y2="595.50" stroke="#231f20" stroke-width="0.7"/>
<line x1="34.60" y1="566.67" x2="151.00" y2="566.67" stroke="#b4b4b4" stroke-width="1.1"/>
<text x="93.80" y="520.20" font-size="7.4" text-anchor="middle">Ribavirin</text>
<text stroke="#231f20" stroke-width="0.18" x="13.60" y="559.70" font-size="7.9" text-anchor="middle" textLength="41.00" lengthAdjust="spacingAndGlyphs" transform="rotate(-90 13.60 559.70)">Cell viability (%)</text>
<text stroke="#231f20" stroke-width="0.18" x="93.80" y="616.20" font-size="7.9" text-anchor="middle" textLength="49.50" lengthAdjust="spacingAndGlyphs">Concentration (μM)</text>
<polyline points="44.26,541.26 45.07,541.26 45.87,541.26 46.67,541.26 47.47,541.26 48.28,541.26 49.08,541.26 49.88,541.26 50.68,541.26 51.49,541.26 52.29,541.26 53.09,541.27 53.89,541.27 54.70,541.27 55.50,541.27 56.30,541.27 57.10,541.28 57.91,541.28 58.71,541.28 59.51,541.29 60.31,541.30 61.12,541.30 61.92,541.31 62.72,541.32 63.52,541.34 64.33,541.36 65.13,541.38 65.93,541.40 66.73,541.44 67.54,541.48 68.34,541.52 69.14,541.58 69.94,541.65 70.75,541.74 71.55,541.85 72.35,541.98 73.15,542.13 73.96,542.32 74.76,542.56 75.56,542.84 76.36,543.17 77.17,543.58 77.97,544.07 78.77,544.65 79.57,545.35 80.38,546.17 81.18,547.13 81.98,548.26 82.78,549.55 83.59,551.04 84.39,552.71 85.19,554.57 85.99,556.62 86.80,558.82 87.60,561.16 88.40,563.58 89.20,566.05 90.01,568.52 90.81,570.93 91.61,573.24 92.41,575.42 93.22,577.44 94.02,579.27 94.82,580.91 95.62,582.37 96.43,583.63 97.23,584.73 98.03,585.67 98.83,586.47 99.64,587.14 100.44,587.71 101.24,588.19 102.04,588.58 102.85,588.91 103.65,589.18 104.45,589.40 105.25,589.59 106.06,589.74 106.86,589.86 107.66,589.97 108.46,590.05 109.27,590.12 110.07,590.18 110.87,590.22 111.67,590.26 112.48,590.29 113.28,590.32 114.08,590.34 114.88,590.36 115.69,590.37 116.49,590.38 117.29,590.39 118.09,590.40 118.90,590.40 119.70,590.41 120.50,590.41 121.30,590.42 122.11,590.42 122.91,590.42 123.71,590.42 124.51,590.43 125.32,590.43 126.12,590.43 126.92,590.43 127.72,590.43 128.53,590.43 129.33,590.43 130.13,590.43 130.93,590.43 131.74,590.43 132.54,590.43 133.34,590.43 134.14,590.43 134.95,590.43 135.75,590.43 136.55,590.43 137.35,590.43 138.16,590.43 138.96,590.43 139.76,590.43 140.56,590.43" fill="none" stroke="#3d8cc0" stroke-width="0.9"/>
<polyline points="44.26,541.07 45.07,541.10 45.87,541.13 46.67,541.16 47.47,541.19 48.28,541.23 49.08,541.26 49.88,541.31 50.68,541.35 51.49,541.40 52.29,541.45 53.09,541.50 53.89,541.56 54.70,541.62 55.50,541.69 56.30,541.76 57.10,541.84 57.91,541.92 58.71,542.01 59.51,542.10 60.31,542.20 61.12,542.31 61.92,542.43 62.72,542.55 63.52,542.68 64.33,542.82 65.13,542.97 65.93,543.13 66.73,543.30 67.54,543.49 68.34,543.68 69.14,543.89 69.94,544.11 70.75,544.34 71.55,544.59 72.35,544.86 73.15,545.14 73.96,545.44 74.76,545.75 75.56,546.09 76.36,546.44 77.17,546.82 77.97,547.21 78.77,547.63 79.57,548.07 80.38,548.53 81.18,549.01 81.98,549.52 82.78,550.05 83.59,550.60 84.39,551.18 85.19,551.79 85.99,552.41 86.80,553.07 87.60,553.74 88.40,554.44 89.20,555.16 90.01,555.90 90.81,556.66 91.61,557.44 92.41,558.24 93.22,559.06 94.02,559.88 94.82,560.73 95.62,561.58 96.43,562.44 97.23,563.31 98.03,564.18 98.83,565.05 99.64,565.93 100.44,566.80 101.24,567.67 102.04,568.53 102.85,569.38 103.65,570.22 104.45,571.05 105.25,571.86 106.06,572.66 106.86,573.44 107.66,574.20 108.46,574.94 109.27,575.65 110.07,576.35 110.87,577.02 111.67,577.67 112.48,578.30 113.28,578.90 114.08,579.48 114.88,580.03 115.69,580.56 116.49,581.06 117.29,581.55 118.09,582.01 118.90,582.44 119.70,582.86 120.50,583.25 121.30,583.62 122.11,583.97 122.91,584.31 123.71,584.62 124.51,584.92 125.32,585.20 126.12,585.46 126.92,585.71 127.72,585.95 128.53,586.16 129.33,586.37 130.13,586.56 130.93,586.75 131.74,586.92 132.54,587.08 133.34,587.23 134.14,587.37 134.95,587.50 135.75,587.62 136.55,587.73 137.35,587.84 138.16,587.94 138.96,588.04 139.76,588.12 140.56,588.20" fill="none" stroke="#1c5a8a" stroke-width="0.9"/>
<polyline points="44.26,540.45 45.07,540.46 45.87,540.48 46.67,540.50 47.47,540.52 48.28,540.54 49.08,540.57 49.88,540.59 50.68,540.62 51.49,540.64 52.29,540.67 53.09,540.70 53.89,540.73 54.70,540.77 55.50,540.80 56.30,540.84 57.10,540.88 57.91,540.92 58.71,540.97 59.51,541.02 60.31,541.07 61.12,541.12 61.92,541.18 62.72,541.24 63.52,541.30 64.33,541.36 65.13,541.43 65.93,541.51 66.73,541.59 67.54,541.67 68.34,541.75 69.14,541.85 69.94,541.94 70.75,542.05 71.55,542.15 72.35,542.27 73.15,542.39 73.96,542.51 74.76,542.65 75.56,542.79 76.36,542.93 77.17,543.09 77.97,543.25 78.77,543.42 79.57,543.60 80.38,543.79 81.18,543.99 81.98,544.20 82.78,544.42 83.59,544.65 84.39,544.89 85.19,545.15 85.99,545.41 86.80,545.69 87.60,545.98 88.40,546.29 89.20,546.60 90.01,546.94 90.81,547.28 91.61,547.64 92.41,548.02 93.22,548.41 94.02,548.82 94.82,549.24 95.62,549.68 96.43,550.13 97.23,550.60 98.03,551.09 98.83,551.59 99.64,552.11 100.44,552.65 101.24,553.20 102.04,553.77 102.85,554.36 103.65,554.95 104.45,555.57 105.25,556.20 106.06,556.84 106.86,557.49 107.66,558.16 108.46,558.84 109.27,559.53 110.07,560.23 110.87,560.94 111.67,561.65 112.48,562.38 113.28,563.10 114.08,563.84 114.88,564.57 115.69,565.31 116.49,566.05 117.29,566.79 118.09,567.53 118.90,568.26 119.70,568.99 120.50,569.72 121.30,570.44 122.11,571.15 122.91,571.85 123.71,572.55 124.51,573.23 125.32,573.91 126.12,574.57 126.92,575.21 127.72,575.85 128.53,576.47 129.33,577.07 130.13,577.66 130.93,578.24 131.74,578.80 132.54,579.34 133.34,579.87 134.14,580.38 134.95,580.88 135.75,581.35 136.55,581.82 137.35,582.26 138.16,582.69 138.96,583.10 139.76,583.50 140.56,583.88" fill="none" stroke="#c8203c" stroke-width="0.9"/>
<polyline points="44.26,540.50 45.07,540.52 45.87,540.53 46.67,540.55 47.47,540.57 48.28,540.59 49.08,540.62 49.88,540.64 50.68,540.66 51.49,540.69 52.29,540.71 53.09,540.74 53.89,540.77 54.70,540.80 55.50,540.83 56.30,540.87 57.10,540.90 57.91,540.94 58.71,540.98 59.51,541.02 60.31,541.06 61.12,541.10 61.92,541.15 62.72,541.20 63.52,541.25 64.33,541.30 65.13,541.36 65.93,541.42 66.73,541.48 67.54,541.54 68.34,541.61 69.14,541.68 69.94,541.75 70.75,541.83 71.55,541.91 72.35,542.00 73.15,542.08 73.96,542.18 74.76,542.27 75.56,542.37 76.36,542.48 77.17,542.59 77.97,542.71 78.77,542.83 79.57,542.95 80.38,543.08 81.18,543.22 81.98,543.36 82.78,543.51 83.59,543.66 84.39,543.83 85.19,543.99 85.99,544.17 86.80,544.35 87.60,544.54 88.40,544.74 89.20,544.94 90.01,545.16 90.81,545.38 91.61,545.61 92.41,545.84 93.22,546.09 94.02,546.35 94.82,546.61 95.62,546.89 96.43,547.17 97.23,547.46 98.03,547.77 98.83,548.08 99.64,548.40 100.44,548.74 101.24,549.08 102.04,549.43 102.85,549.80 103.65,550.17 104.45,550.56 105.25,550.95 106.06,551.35 106.86,551.77 107.66,552.19 108.46,552.63 109.27,553.07 110.07,553.52 110.87,553.98 111.67,554.45 112.48,554.93 113.28,555.41 114.08,555.90 114.88,556.40 115.69,556.91 116.49,557.42 117.29,557.94 118.09,558.46 118.90,558.99 119.70,559.52 120.50,560.05 121.30,560.59 122.11,561.13 122.91,561.67 123.71,562.21 124.51,562.75 125.32,563.29 126.12,563.83 126.92,564.37 127.72,564.90 128.53,565.43 129.33,565.96 130.13,566.48 130.93,567.00 131.74,567.51 132.54,568.02 133.34,568.52 134.14,569.01 134.95,569.50 135.75,569.98 136.55,570.45 137.35,570.91 138.16,571.37 138.96,571.81 139.76,572.24 140.56,572.67" fill="none" stroke="#d4506e" stroke-width="0.9"/>
<line x1="44.26" y1="540.15" x2="44.26" y2="551.20" stroke="#3d8cc0" stroke-width="0.6"/>
<line x1="43.26" y1="540.15" x2="45.26" y2="540.15" stroke="#3d8cc0" stroke-width="0.6"/>
<line x1="43.26" y1="551.20" x2="45.26" y2="551.20" stroke="#3d8cc0" stroke-width="0.6"/>
<rect x="43.16" y="544.58" width="2.20" height="2.20" fill="#3d8cc0"/>
<line x1="53.93" y1="528.55" x2="53.93" y2="552.86" stroke="#3d8cc0" stroke-width="0.6"/>
<line x1="52.93" y1="528.55" x2="54.93" y2="528.55" stroke="#3d8cc0" stroke-width="0.6"/>
<line x1="52.93" y1="552.86" x2="54.93" y2="552.86" stroke="#3d8cc0" stroke-width="0.6"/>
<rect x="52.83" y="539.61" width="2.20" height="2.20" fill="#3d8cc0"/>
<line x1="63.59" y1="530.76" x2="63.59" y2="547.34" stroke="#3d8cc0" stroke-width="0.6"/>
<line x1="62.59" y1="530.76" x2="64.59" y2="530.76" stroke="#3d8cc0" stroke-width="0.6"/>
<line x1="62.59" y1="547.34" x2="64.59" y2="547.34" stroke="#3d8cc0" stroke-width="0.6"/>
<rect x="62.49" y="537.95" width="2.20" height="2.20" fill="#3d8cc0"/>
<line x1="73.25" y1="541.26" x2="73.25" y2="552.31" stroke="#3d8cc0" stroke-width="0.6"/>
<line x1="72.25" y1="541.26" x2="74.25" y2="541.26" stroke="#3d8cc0" stroke-width="0.6"/>
<line x1="72.25" y1="552.31" x2="74.25" y2="552.31" stroke="#3d8cc0" stroke-width="0.6"/>
<rect x="72.15" y="545.68" width="2.20" height="2.20" fill="#3d8cc0"/>
<line x1="82.58" y1="549.00" x2="82.58" y2="555.62" stroke="#3d8cc0" stroke-width="0.6"/>
<line x1="81.58" y1="549.00" x2="83.58" y2="549.00" stroke="#3d8cc0" stroke-width="0.6"/>
<line x1="81.58" y1="555.62" x2="83.58" y2="555.62" stroke="#3d8cc0" stroke-width="0.6"/>
<rect x="81.48" y="551.21" width="2.20" height="2.20" fill="#3d8cc0"/>
<line x1="92.25" y1="571.65" x2="92.25" y2="576.07" stroke="#3d8cc0" stroke-width="0.6"/>
<line x1="91.25" y1="571.65" x2="93.25" y2="571.65" stroke="#3d8cc0" stroke-width="0.6"/>
<line x1="91.25" y1="576.07" x2="93.25" y2="576.07" stroke="#3d8cc0" stroke-width="0.6"/>
<rect x="91.15" y="572.76" width="2.20" height="2.20" fill="#3d8cc0"/>
<line x1="101.91" y1="586.01" x2="101.91" y2="589.33" stroke="#3d8cc0" stroke-width="0.6"/>
<line x1="100.91" y1="586.01" x2="102.91" y2="586.01" stroke="#3d8cc0" stroke-width="0.6"/>
<line x1="100.91" y1="589.33" x2="102.91" y2="589.33" stroke="#3d8cc0" stroke-width="0.6"/>
<rect x="100.81" y="586.57" width="2.20" height="2.20" fill="#3d8cc0"/>
<line x1="111.57" y1="588.77" x2="111.57" y2="590.98" stroke="#3d8cc0" stroke-width="0.6"/>
<line x1="110.57" y1="588.77" x2="112.57" y2="588.77" stroke="#3d8cc0" stroke-width="0.6"/>
<line x1="110.57" y1="590.98" x2="112.57" y2="590.98" stroke="#3d8cc0" stroke-width="0.6"/>
<rect x="110.47" y="588.78" width="2.20" height="2.20" fill="#3d8cc0"/>
<line x1="121.24" y1="589.33" x2="121.24" y2="591.54" stroke="#3d8cc0" stroke-width="0.6"/>
<line x1="120.24" y1="589.33" x2="122.24" y2="589.33" stroke="#3d8cc0" stroke-width="0.6"/>
<line x1="120.24" y1="591.54" x2="122.24" y2="591.54" stroke="#3d8cc0" stroke-width="0.6"/>
<rect x="120.14" y="589.33" width="2.20" height="2.20" fill="#3d8cc0"/>
<line x1="130.90" y1="589.33" x2="130.90" y2="591.54" stroke="#3d8cc0" stroke-width="0.6"/>
<line x1="129.90" y1="589.33" x2="131.90" y2="589.33" stroke="#3d8cc0" stroke-width="0.6"/>
<line x1="129.90" y1="591.54" x2="131.90" y2="591.54" stroke="#3d8cc0" stroke-width="0.6"/>
<rect x="129.80" y="589.33" width="2.20" height="2.20" fill="#3d8cc0"/>
<line x1="140.56" y1="589.88" x2="140.56" y2="592.09" stroke="#3d8cc0" stroke-width="0.6"/>
<line x1="139.56" y1="589.88" x2="141.56" y2="589.88" stroke="#3d8cc0" stroke-width="0.6"/>
<line x1="139.56" y1="592.09" x2="141.56" y2="592.09" stroke="#3d8cc0" stroke-width="0.6"/>
<rect x="139.46" y="589.88" width="2.20" height="2.20" fill="#3d8cc0"/>
<line x1="44.26" y1="536.84" x2="44.26" y2="545.68" stroke="#1c5a8a" stroke-width="0.6"/>
<line x1="43.26" y1="536.84" x2="45.26" y2="536.84" stroke="#1c5a8a" stroke-width="0.6"/>
<line x1="43.26" y1="545.68" x2="45.26" y2="545.68" stroke="#1c5a8a" stroke-width="0.6"/>
<rect x="43.16" y="540.16" width="2.20" height="2.20" fill="#1c5a8a"/>
<line x1="53.93" y1="530.76" x2="53.93" y2="552.86" stroke="#1c5a8a" stroke-width="0.6"/>
<line x1="52.93" y1="530.76" x2="54.93" y2="530.76" stroke="#1c5a8a" stroke-width="0.6"/>
<line x1="52.93" y1="552.86" x2="54.93" y2="552.86" stroke="#1c5a8a" stroke-width="0.6"/>
<rect x="52.83" y="540.71" width="2.20" height="2.20" fill="#1c5a8a"/>
<line x1="63.59" y1="528.00" x2="63.59" y2="547.89" stroke="#1c5a8a" stroke-width="0.6"/>
<line x1="62.59" y1="528.00" x2="64.59" y2="528.00" stroke="#1c5a8a" stroke-width="0.6"/>
<line x1="62.59" y1="547.89" x2="64.59" y2="547.89" stroke="#1c5a8a" stroke-width="0.6"/>
<rect x="62.49" y="536.84" width="2.20" height="2.20" fill="#1c5a8a"/>
<line x1="73.25" y1="533.52" x2="73.25" y2="557.83" stroke="#1c5a8a" stroke-width="0.6"/>
<line x1="72.25" y1="533.52" x2="74.25" y2="533.52" stroke="#1c5a8a" stroke-width="0.6"/>
<line x1="72.25" y1="557.83" x2="74.25" y2="557.83" stroke="#1c5a8a" stroke-width="0.6"/>
<rect x="72.15" y="544.58" width="2.20" height="2.20" fill="#1c5a8a"/>
<line x1="82.58" y1="548.44" x2="82.58" y2="553.97" stroke="#1c5a8a" stroke-width="0.6"/>
<line x1="81.58" y1="548.44" x2="83.58" y2="548.44" stroke="#1c5a8a" stroke-width="0.6"/>
<line x1="81.58" y1="553.97" x2="83.58" y2="553.97" stroke="#1c5a8a" stroke-width="0.6"/>
<rect x="81.48" y="550.10" width="2.20" height="2.20" fill="#1c5a8a"/>
<line x1="92.25" y1="559.49" x2="92.25" y2="562.81" stroke="#1c5a8a" stroke-width="0.6"/>
<line x1="91.25" y1="559.49" x2="93.25" y2="559.49" stroke="#1c5a8a" stroke-width="0.6"/>
<line x1="91.25" y1="562.81" x2="93.25" y2="562.81" stroke="#1c5a8a" stroke-width="0.6"/>
<rect x="91.15" y="560.05" width="2.20" height="2.20" fill="#1c5a8a"/>
<line x1="101.91" y1="567.78" x2="101.91" y2="571.09" stroke="#1c5a8a" stroke-width="0.6"/>
<line x1="100.91" y1="567.78" x2="102.91" y2="567.78" stroke="#1c5a8a" stroke-width="0.6"/>
<line x1="100.91" y1="571.09" x2="102.91" y2="571.09" stroke="#1c5a8a" stroke-width="0.6"/>
<rect x="100.81" y="568.34" width="2.20" height="2.20" fill="#1c5a8a"/>
<line x1="111.57" y1="572.75" x2="111.57" y2="576.07" stroke="#1c5a8a" stroke-width="0.6"/>
<line x1="110.57" y1="572.75" x2="112.57" y2="572.75" stroke="#1c5a8a" stroke-width="0.6"/>
<line x1="110.57" y1="576.07" x2="112.57" y2="576.07" stroke="#1c5a8a" stroke-width="0.6"/>
<rect x="110.47" y="573.31" width="2.20" height="2.20" fill="#1c5a8a"/>
<line x1="121.24" y1="582.70" x2="121.24" y2="584.91" stroke="#1c5a8a" stroke-width="0.6"/>
<line x1="120.24" y1="582.70" x2="122.24" y2="582.70" stroke="#1c5a8a" stroke-width="0.6"/>
<line x1="120.24" y1="584.91" x2="122.24" y2="584.91" stroke="#1c5a8a" stroke-width="0.6"/>
<rect x="120.14" y="582.70" width="2.20" height="2.20" fill="#1c5a8a"/>
<line x1="130.90" y1="586.56" x2="130.90" y2="588.77" stroke="#1c5a8a" stroke-width="0.6"/>
<line x1="129.90" y1="586.56" x2="131.90" y2="586.56" stroke="#1c5a8a" stroke-width="0.6"/>
<line x1="129.90" y1="588.77" x2="131.90" y2="588.77" stroke="#1c5a8a" stroke-width="0.6"/>
<rect x="129.80" y="586.57" width="2.20" height="2.20" fill="#1c5a8a"/>
<line x1="140.56" y1="587.12" x2="140.56" y2="589.33" stroke="#1c5a8a" stroke-width="0.6"/>
<line x1="139.56" y1="587.12" x2="141.56" y2="587.12" stroke="#1c5a8a" stroke-width="0.6"/>
<line x1="139.56" y1="589.33" x2="141.56" y2="589.33" stroke="#1c5a8a" stroke-width="0.6"/>
<rect x="139.46" y="587.12" width="2.20" height="2.20" fill="#1c5a8a"/>
<line x1="44.26" y1="534.08" x2="44.26" y2="547.34" stroke="#c8203c" stroke-width="0.6"/>
<line x1="43.26" y1="534.08" x2="45.26" y2="534.08" stroke="#c8203c" stroke-width="0.6"/>
<line x1="43.26" y1="547.34" x2="45.26" y2="547.34" stroke="#c8203c" stroke-width="0.6"/>
<rect x="43.16" y="539.61" width="2.20" height="2.20" fill="#c8203c"/>
<line x1="53.93" y1="536.29" x2="53.93" y2="547.34" stroke="#c8203c" stroke-width="0.6"/>
<line x1="52.93" y1="536.29" x2="54.93" y2="536.29" stroke="#c8203c" stroke-width="0.6"/>
<line x1="52.93" y1="547.34" x2="54.93" y2="547.34" stroke="#c8203c" stroke-width="0.6"/>
<rect x="52.83" y="540.71" width="2.20" height="2.20" fill="#c8203c"/>
<line x1="63.59" y1="536.29" x2="63.59" y2="542.92" stroke="#c8203c" stroke-width="0.6"/>
<line x1="62.59" y1="536.29" x2="64.59" y2="536.29" stroke="#c8203c" stroke-width="0.6"/>
<line x1="62.59" y1="542.92" x2="64.59" y2="542.92" stroke="#c8203c" stroke-width="0.6"/>
<rect x="62.49" y="538.50" width="2.20" height="2.20" fill="#c8203c"/>
<line x1="73.25" y1="538.50" x2="73.25" y2="545.13" stroke="#c8203c" stroke-width="0.6"/>
<line x1="72.25" y1="538.50" x2="74.25" y2="538.50" stroke="#c8203c" stroke-width="0.6"/>
<line x1="72.25" y1="545.13" x2="74.25" y2="545.13" stroke="#c8203c" stroke-width="0.6"/>
<rect x="72.15" y="540.71" width="2.20" height="2.20" fill="#c8203c"/>
<line x1="82.58" y1="541.81" x2="82.58" y2="548.44" stroke="#c8203c" stroke-width="0.6"/>
<line x1="81.58" y1="541.81" x2="83.58" y2="541.81" stroke="#c8203c" stroke-width="0.6"/>
<line x1="81.58" y1="548.44" x2="83.58" y2="548.44" stroke="#c8203c" stroke-width="0.6"/>
<rect x="81.48" y="544.03" width="2.20" height="2.20" fill="#c8203c"/>
<line x1="92.25" y1="544.57" x2="92.25" y2="550.10" stroke="#c8203c" stroke-width="0.6"/>
<line x1="91.25" y1="544.57" x2="93.25" y2="544.57" stroke="#c8203c" stroke-width="0.6"/>
<line x1="91.25" y1="550.10" x2="93.25" y2="550.10" stroke="#c8203c" stroke-width="0.6"/>
<rect x="91.15" y="546.24" width="2.20" height="2.20" fill="#c8203c"/>
<line x1="101.91" y1="552.86" x2="101.91" y2="558.39" stroke="#c8203c" stroke-width="0.6"/>
<line x1="100.91" y1="552.86" x2="102.91" y2="552.86" stroke="#c8203c" stroke-width="0.6"/>
<line x1="100.91" y1="558.39" x2="102.91" y2="558.39" stroke="#c8203c" stroke-width="0.6"/>
<rect x="100.81" y="554.52" width="2.20" height="2.20" fill="#c8203c"/>
<line x1="111.57" y1="559.49" x2="111.57" y2="563.91" stroke="#c8203c" stroke-width="0.6"/>
<line x1="110.57" y1="559.49" x2="112.57" y2="559.49" stroke="#c8203c" stroke-width="0.6"/>
<line x1="110.57" y1="563.91" x2="112.57" y2="563.91" stroke="#c8203c" stroke-width="0.6"/>
<rect x="110.47" y="560.60" width="2.20" height="2.20" fill="#c8203c"/>
<line x1="121.24" y1="567.23" x2="121.24" y2="571.65" stroke="#c8203c" stroke-width="0.6"/>
<line x1="120.24" y1="567.23" x2="122.24" y2="567.23" stroke="#c8203c" stroke-width="0.6"/>
<line x1="120.24" y1="571.65" x2="122.24" y2="571.65" stroke="#c8203c" stroke-width="0.6"/>
<rect x="120.14" y="568.34" width="2.20" height="2.20" fill="#c8203c"/>
<line x1="130.90" y1="577.17" x2="130.90" y2="580.49" stroke="#c8203c" stroke-width="0.6"/>
<line x1="129.90" y1="577.17" x2="131.90" y2="577.17" stroke="#c8203c" stroke-width="0.6"/>
<line x1="129.90" y1="580.49" x2="131.90" y2="580.49" stroke="#c8203c" stroke-width="0.6"/>
<rect x="129.80" y="577.73" width="2.20" height="2.20" fill="#c8203c"/>
<line x1="140.56" y1="581.59" x2="140.56" y2="583.80" stroke="#c8203c" stroke-width="0.6"/>
<line x1="139.56" y1="581.59" x2="141.56" y2="581.59" stroke="#c8203c" stroke-width="0.6"/>
<line x1="139.56" y1="583.80" x2="141.56" y2="583.80" stroke="#c8203c" stroke-width="0.6"/>
<rect x="139.46" y="581.60" width="2.20" height="2.20" fill="#c8203c"/>
<line x1="44.26" y1="537.94" x2="44.26" y2="544.57" stroke="#d4506e" stroke-width="0.6"/>
<line x1="43.26" y1="537.94" x2="45.26" y2="537.94" stroke="#d4506e" stroke-width="0.6"/>
<line x1="43.26" y1="544.57" x2="45.26" y2="544.57" stroke="#d4506e" stroke-width="0.6"/>
<rect x="43.16" y="540.16" width="2.20" height="2.20" fill="#d4506e"/>
<line x1="53.93" y1="536.29" x2="53.93" y2="545.13" stroke="#d4506e" stroke-width="0.6"/>
<line x1="52.93" y1="536.29" x2="54.93" y2="536.29" stroke="#d4506e" stroke-width="0.6"/>
<line x1="52.93" y1="545.13" x2="54.93" y2="545.13" stroke="#d4506e" stroke-width="0.6"/>
<rect x="52.83" y="539.61" width="2.20" height="2.20" fill="#d4506e"/>
<line x1="63.59" y1="536.29" x2="63.59" y2="545.13" stroke="#d4506e" stroke-width="0.6"/>
<line x1="62.59" y1="536.29" x2="64.59" y2="536.29" stroke="#d4506e" stroke-width="0.6"/>
<line x1="62.59" y1="545.13" x2="64.59" y2="545.13" stroke="#d4506e" stroke-width="0.6"/>
<rect x="62.49" y="539.61" width="2.20" height="2.20" fill="#d4506e"/>
<line x1="73.25" y1="539.60" x2="73.25" y2="545.13" stroke="#d4506e" stroke-width="0.6"/>
<line x1="72.25" y1="539.60" x2="74.25" y2="539.60" stroke="#d4506e" stroke-width="0.6"/>
<line x1="72.25" y1="545.13" x2="74.25" y2="545.13" stroke="#d4506e" stroke-width="0.6"/>
<rect x="72.15" y="541.26" width="2.20" height="2.20" fill="#d4506e"/>
<line x1="82.58" y1="541.81" x2="82.58" y2="547.34" stroke="#d4506e" stroke-width="0.6"/>
<line x1="81.58" y1="541.81" x2="83.58" y2="541.81" stroke="#d4506e" stroke-width="0.6"/>
<line x1="81.58" y1="547.34" x2="83.58" y2="547.34" stroke="#d4506e" stroke-width="0.6"/>
<rect x="81.48" y="543.47" width="2.20" height="2.20" fill="#d4506e"/>
<line x1="92.25" y1="543.47" x2="92.25" y2="549.00" stroke="#d4506e" stroke-width="0.6"/>
<line x1="91.25" y1="543.47" x2="93.25" y2="543.47" stroke="#d4506e" stroke-width="0.6"/>
<line x1="91.25" y1="549.00" x2="93.25" y2="549.00" stroke="#d4506e" stroke-width="0.6"/>
<rect x="91.15" y="545.13" width="2.20" height="2.20" fill="#d4506e"/>
<line x1="101.91" y1="545.13" x2="101.91" y2="553.97" stroke="#d4506e" stroke-width="0.6"/>
<line x1="100.91" y1="545.13" x2="102.91" y2="545.13" stroke="#d4506e" stroke-width="0.6"/>
<line x1="100.91" y1="553.97" x2="102.91" y2="553.97" stroke="#d4506e" stroke-width="0.6"/>
<rect x="100.81" y="548.45" width="2.20" height="2.20" fill="#d4506e"/>
<line x1="111.57" y1="551.76" x2="111.57" y2="557.28" stroke="#d4506e" stroke-width="0.6"/>
<line x1="110.57" y1="551.76" x2="112.57" y2="551.76" stroke="#d4506e" stroke-width="0.6"/>
<line x1="110.57" y1="557.28" x2="112.57" y2="557.28" stroke="#d4506e" stroke-width="0.6"/>
<rect x="110.47" y="553.42" width="2.20" height="2.20" fill="#d4506e"/>
<line x1="121.24" y1="559.49" x2="121.24" y2="565.02" stroke="#d4506e" stroke-width="0.6"/>
<line x1="120.24" y1="559.49" x2="122.24" y2="559.49" stroke="#d4506e" stroke-width="0.6"/>
<line x1="120.24" y1="565.02" x2="122.24" y2="565.02" stroke="#d4506e" stroke-width="0.6"/>
<rect x="120.14" y="561.15" width="2.20" height="2.20" fill="#d4506e"/>
<line x1="130.90" y1="565.02" x2="130.90" y2="569.44" stroke="#d4506e" stroke-width="0.6"/>
<line x1="129.90" y1="565.02" x2="131.90" y2="565.02" stroke="#d4506e" stroke-width="0.6"/>
<line x1="129.90" y1="569.44" x2="131.90" y2="569.44" stroke="#d4506e" stroke-width="0.6"/>
<rect x="129.80" y="566.13" width="2.20" height="2.20" fill="#d4506e"/>
<line x1="140.56" y1="569.44" x2="140.56" y2="572.75" stroke="#d4506e" stroke-width="0.6"/>
<line x1="139.56" y1="569.44" x2="141.56" y2="569.44" stroke="#d4506e" stroke-width="0.6"/>
<line x1="139.56" y1="572.75" x2="141.56" y2="572.75" stroke="#d4506e" stroke-width="0.6"/>
<rect x="139.46" y="569.99" width="2.20" height="2.20" fill="#d4506e"/>
<text x="150.30" y="504.00" font-size="5.9" textLength="26.40" lengthAdjust="spacingAndGlyphs">IC50 (μM)</text>
<line x1="150.30" y1="508.10" x2="177.50" y2="508.10" stroke="#231f20" stroke-width="0.7"/>
<line x1="120.80" y1="513.10" x2="127.00" y2="513.10" stroke="#3d8cc0" stroke-width="0.9"/>
<rect x="122.90" y="512.10" width="2.00" height="2.00" fill="#3d8cc0"/>
<text x="130.20" y="515.30" font-size="6.05">MV4.11</text>
<text x="163.30" y="515.30" font-size="6.1" text-anchor="middle">5</text>
<line x1="120.80" y1="522.70" x2="127.00" y2="522.70" stroke="#1c5a8a" stroke-width="0.9"/>
<rect x="122.90" y="521.70" width="2.00" height="2.00" fill="#1c5a8a"/>
<text x="130.20" y="524.90" font-size="6.05">Shi-1</text>
<text x="163.30" y="524.90" font-size="6.1" text-anchor="middle">10.5</text>
<line x1="120.80" y1="532.30" x2="127.00" y2="532.30" stroke="#c8203c" stroke-width="0.9"/>
<rect x="122.90" y="531.30" width="2.00" height="2.00" fill="#c8203c"/>
<text x="130.20" y="534.50" font-size="6.05">HL60</text>
<text x="163.30" y="534.50" font-size="6.1" text-anchor="middle">39</text>
<line x1="120.80" y1="541.90" x2="127.00" y2="541.90" stroke="#d4506e" stroke-width="0.9"/>
<rect x="122.90" y="540.90" width="2.00" height="2.00" fill="#d4506e"/>
<text x="130.20" y="544.10" font-size="6.05">Kasumi-1</text>
<text x="163.30" y="544.10" font-size="6.1" text-anchor="middle">87</text>
<text x="192.40" y="509.00" font-size="10.2" font-weight="bold" fill="#000">H</text>
<line x1="227.00" y1="525.80" x2="227.00" y2="594.50" stroke="#231f20" stroke-width="1.0"/>
<line x1="226.50" y1="594.30" x2="343.00" y2="594.30" stroke="#231f20" stroke-width="1.0"/>
<line x1="224.80" y1="527.80" x2="227.00" y2="527.80" stroke="#231f20" stroke-width="0.9"/>
<text x="220.20" y="530.00" font-size="6.2" text-anchor="end">4</text>
<line x1="224.80" y1="544.40" x2="227.00" y2="544.40" stroke="#231f20" stroke-width="0.9"/>
<text x="220.20" y="546.60" font-size="6.2" text-anchor="end">2</text>
<line x1="224.80" y1="561.00" x2="227.00" y2="561.00" stroke="#231f20" stroke-width="0.9"/>
<text x="220.20" y="563.20" font-size="6.2" text-anchor="end">0</text>
<line x1="224.80" y1="577.60" x2="227.00" y2="577.60" stroke="#231f20" stroke-width="0.9"/>
<text x="220.20" y="579.80" font-size="6.2" text-anchor="end">−2</text>
<line x1="224.80" y1="594.20" x2="227.00" y2="594.20" stroke="#231f20" stroke-width="0.9"/>
<text x="220.20" y="596.40" font-size="6.2" text-anchor="end">−4</text>
<text stroke="#231f20" stroke-width="0.18" x="199.00" y="559.70" font-size="7.9" text-anchor="middle" textLength="70.50" lengthAdjust="spacingAndGlyphs" transform="rotate(-90 199.00 559.70)">HoxA9AA/HoxA9wt log2 fold</text>
<text stroke="#231f20" stroke-width="0.18" x="208.30" y="560.00" font-size="7.9" text-anchor="middle" textLength="65.50" lengthAdjust="spacingAndGlyphs" transform="rotate(-90 208.30 560.00)">change in gene expression</text>
<line x1="233.60" y1="594.30" x2="233.60" y2="596.50" stroke="#231f20" stroke-width="0.9"/>
<circle cx="233.35" cy="534.44" r="0.90" fill="#c4c4c4" opacity="0.85"/>
<circle cx="233.55" cy="538.17" r="0.90" fill="#c4c4c4" opacity="0.85"/>
<circle cx="233.76" cy="540.66" r="0.90" fill="#c4c4c4" opacity="0.85"/>
<circle cx="233.75" cy="582.16" r="0.90" fill="#c4c4c4" opacity="0.85"/>
<circle cx="233.76" cy="583.83" r="0.90" fill="#c4c4c4" opacity="0.85"/>
<circle cx="233.65" cy="585.90" r="0.90" fill="#c4c4c4" opacity="0.85"/>
<polygon points="234.40,543.57 234.40,544.49 234.40,545.42 234.40,546.34 234.40,547.26 234.40,548.19 234.40,549.11 234.41,550.03 234.41,550.96 234.43,551.88 234.45,552.80 234.50,553.73 234.58,554.65 234.72,555.57 234.94,556.50 235.25,557.42 235.67,558.34 236.18,559.27 236.71,560.19 236.98,561.11 236.58,562.04 236.05,562.96 235.56,563.88 235.16,564.81 234.87,565.73 234.68,566.65 234.56,567.58 234.49,568.50 234.45,569.42 234.42,570.35 234.41,571.27 234.41,572.19 234.40,573.12 234.40,574.04 234.40,574.96 234.40,575.89 234.40,576.81 234.40,577.73 234.40,578.66 234.40,579.58 234.40,580.50 232.80,580.50 232.80,579.58 232.80,578.66 232.80,577.73 232.80,576.81 232.80,575.89 232.80,574.96 232.80,574.04 232.80,573.12 232.79,572.19 232.79,571.27 232.78,570.35 232.75,569.42 232.71,568.50 232.64,567.58 232.52,566.65 232.33,565.73 232.04,564.81 231.64,563.88 231.15,562.96 230.62,562.04 230.22,561.11 230.49,560.19 231.02,559.27 231.53,558.34 231.95,557.42 232.26,556.50 232.48,555.57 232.62,554.65 232.70,553.73 232.75,552.80 232.77,551.88 232.79,550.96 232.79,550.03 232.80,549.11 232.80,548.19 232.80,547.26 232.80,546.34 232.80,545.42 232.80,544.49 232.80,543.57" fill="#1a1a1a"/>
<line x1="243.86" y1="594.30" x2="243.86" y2="596.50" stroke="#231f20" stroke-width="0.9"/>
<circle cx="243.61" cy="556.85" r="0.85" fill="#72b872" opacity="0.9"/>
<circle cx="244.48" cy="567.16" r="0.85" fill="#72b872" opacity="0.9"/>
<circle cx="244.55" cy="560.36" r="0.85" fill="#72b872" opacity="0.9"/>
<circle cx="243.74" cy="556.85" r="0.85" fill="#72b872" opacity="0.9"/>
<circle cx="243.24" cy="556.85" r="0.85" fill="#3f9a48" opacity="0.9"/>
<circle cx="244.95" cy="562.87" r="0.85" fill="#72b872" opacity="0.9"/>
<circle cx="244.55" cy="563.13" r="0.85" fill="#72b872" opacity="0.9"/>
<circle cx="245.64" cy="561.83" r="0.85" fill="#3f9a48" opacity="0.9"/>
<circle cx="244.17" cy="558.41" r="0.85" fill="#72b872" opacity="0.9"/>
<circle cx="243.68" cy="562.95" r="0.85" fill="#72b872" opacity="0.9"/>
<circle cx="243.17" cy="562.27" r="0.85" fill="#72b872" opacity="0.9"/>
<circle cx="246.21" cy="562.00" r="0.85" fill="#3f9a48" opacity="0.9"/>
<circle cx="245.71" cy="562.59" r="0.85" fill="#72b872" opacity="0.9"/>
<circle cx="243.22" cy="561.56" r="0.85" fill="#72b872" opacity="0.9"/>
<circle cx="242.86" cy="562.86" r="0.85" fill="#3f9a48" opacity="0.9"/>
<circle cx="242.65" cy="561.21" r="0.85" fill="#3f9a48" opacity="0.9"/>
<circle cx="245.44" cy="562.04" r="0.85" fill="#72b872" opacity="0.9"/>
<circle cx="243.49" cy="563.49" r="0.85" fill="#72b872" opacity="0.9"/>
<circle cx="244.22" cy="564.16" r="0.85" fill="#72b872" opacity="0.9"/>
<circle cx="244.16" cy="560.74" r="0.85" fill="#3f9a48" opacity="0.9"/>
<circle cx="245.46" cy="561.23" r="0.85" fill="#3f9a48" opacity="0.9"/>
<circle cx="243.47" cy="563.58" r="0.85" fill="#72b872" opacity="0.9"/>
<line x1="243.86" y1="558.59" x2="243.86" y2="565.90" stroke="#3f9a48" stroke-width="0.9"/>
<line x1="240.46" y1="562.25" x2="247.26" y2="562.25" stroke="#3f9a48" stroke-width="1.1"/>
<line x1="242.06" y1="559.96" x2="245.66" y2="559.96" stroke="#3f9a48" stroke-width="0.8"/>
<line x1="242.06" y1="564.53" x2="245.66" y2="564.53" stroke="#3f9a48" stroke-width="0.8"/>
<line x1="254.12" y1="594.30" x2="254.12" y2="596.50" stroke="#231f20" stroke-width="0.9"/>
<circle cx="254.34" cy="579.26" r="0.90" fill="#7d4e96" opacity="0.85"/>
<circle cx="254.36" cy="565.03" r="0.85" fill="#7d4e96" opacity="0.9"/>
<circle cx="251.88" cy="561.71" r="0.85" fill="#552670" opacity="0.9"/>
<circle cx="254.62" cy="557.54" r="0.85" fill="#552670" opacity="0.9"/>
<circle cx="253.45" cy="565.29" r="0.85" fill="#552670" opacity="0.9"/>
<circle cx="255.66" cy="561.74" r="0.85" fill="#7d4e96" opacity="0.9"/>
<circle cx="254.57" cy="566.91" r="0.85" fill="#552670" opacity="0.9"/>
<circle cx="255.82" cy="560.00" r="0.85" fill="#552670" opacity="0.9"/>
<circle cx="253.77" cy="567.64" r="0.85" fill="#7d4e96" opacity="0.9"/>
<circle cx="254.91" cy="556.44" r="0.85" fill="#7d4e96" opacity="0.9"/>
<circle cx="255.48" cy="560.38" r="0.85" fill="#552670" opacity="0.9"/>
<circle cx="254.26" cy="561.10" r="0.85" fill="#7d4e96" opacity="0.9"/>
<circle cx="254.07" cy="561.59" r="0.85" fill="#7d4e96" opacity="0.9"/>
<circle cx="255.66" cy="563.27" r="0.85" fill="#552670" opacity="0.9"/>
<circle cx="252.17" cy="561.43" r="0.85" fill="#552670" opacity="0.9"/>
<circle cx="253.72" cy="555.97" r="0.85" fill="#7d4e96" opacity="0.9"/>
<circle cx="255.21" cy="559.25" r="0.85" fill="#7d4e96" opacity="0.9"/>
<circle cx="255.26" cy="562.17" r="0.85" fill="#7d4e96" opacity="0.9"/>
<circle cx="254.11" cy="564.46" r="0.85" fill="#7d4e96" opacity="0.9"/>
<circle cx="253.84" cy="554.20" r="0.85" fill="#7d4e96" opacity="0.9"/>
<circle cx="254.39" cy="557.84" r="0.85" fill="#552670" opacity="0.9"/>
<circle cx="253.47" cy="560.14" r="0.85" fill="#552670" opacity="0.9"/>
<circle cx="254.57" cy="556.80" r="0.85" fill="#7d4e96" opacity="0.9"/>
<line x1="254.12" y1="556.86" x2="254.12" y2="566.80" stroke="#552670" stroke-width="0.9"/>
<line x1="250.72" y1="561.83" x2="257.52" y2="561.83" stroke="#552670" stroke-width="1.1"/>
<line x1="252.32" y1="558.73" x2="255.92" y2="558.73" stroke="#552670" stroke-width="0.8"/>
<line x1="252.32" y1="564.93" x2="255.92" y2="564.93" stroke="#552670" stroke-width="0.8"/>
<line x1="264.38" y1="594.30" x2="264.38" y2="596.50" stroke="#231f20" stroke-width="0.9"/>
<circle cx="264.50" cy="572.21" r="0.90" fill="#96cceb" opacity="0.85"/>
<circle cx="264.34" cy="556.93" r="0.85" fill="#3a8cbc" opacity="0.9"/>
<circle cx="263.27" cy="556.47" r="0.85" fill="#96cceb" opacity="0.9"/>
<circle cx="264.46" cy="562.98" r="0.85" fill="#96cceb" opacity="0.9"/>
<circle cx="264.28" cy="564.93" r="0.85" fill="#96cceb" opacity="0.9"/>
<circle cx="264.04" cy="554.31" r="0.85" fill="#96cceb" opacity="0.9"/>
<circle cx="267.01" cy="561.28" r="0.85" fill="#96cceb" opacity="0.9"/>
<circle cx="264.42" cy="561.52" r="0.85" fill="#96cceb" opacity="0.9"/>
<circle cx="266.69" cy="558.95" r="0.85" fill="#96cceb" opacity="0.9"/>
<circle cx="263.31" cy="557.81" r="0.85" fill="#3a8cbc" opacity="0.9"/>
<circle cx="263.84" cy="551.04" r="0.85" fill="#3a8cbc" opacity="0.9"/>
<circle cx="263.90" cy="570.13" r="0.85" fill="#3a8cbc" opacity="0.9"/>
<circle cx="264.42" cy="562.97" r="0.85" fill="#96cceb" opacity="0.9"/>
<circle cx="266.53" cy="562.11" r="0.85" fill="#96cceb" opacity="0.9"/>
<circle cx="264.05" cy="564.68" r="0.85" fill="#96cceb" opacity="0.9"/>
<circle cx="264.28" cy="554.83" r="0.85" fill="#96cceb" opacity="0.9"/>
<circle cx="265.76" cy="560.86" r="0.85" fill="#96cceb" opacity="0.9"/>
<circle cx="265.75" cy="563.57" r="0.85" fill="#96cceb" opacity="0.9"/>
<circle cx="263.82" cy="557.16" r="0.85" fill="#96cceb" opacity="0.9"/>
<circle cx="266.61" cy="559.58" r="0.85" fill="#3a8cbc" opacity="0.9"/>
<circle cx="262.28" cy="563.27" r="0.85" fill="#3a8cbc" opacity="0.9"/>
<circle cx="263.82" cy="562.27" r="0.85" fill="#3a8cbc" opacity="0.9"/>
<circle cx="263.31" cy="556.04" r="0.85" fill="#96cceb" opacity="0.9"/>
<line x1="264.38" y1="554.28" x2="264.38" y2="567.72" stroke="#3a8cbc" stroke-width="0.9"/>
<line x1="260.98" y1="561.00" x2="267.78" y2="561.00" stroke="#3a8cbc" stroke-width="1.1"/>
<line x1="262.58" y1="556.80" x2="266.18" y2="556.80" stroke="#3a8cbc" stroke-width="0.8"/>
<line x1="262.58" y1="565.20" x2="266.18" y2="565.20" stroke="#3a8cbc" stroke-width="0.8"/>
<line x1="274.64" y1="594.30" x2="274.64" y2="596.50" stroke="#231f20" stroke-width="0.9"/>
<circle cx="274.90" cy="534.44" r="0.90" fill="#d4566a" opacity="0.85"/>
<circle cx="272.93" cy="557.89" r="0.85" fill="#c0283e" opacity="0.9"/>
<circle cx="273.85" cy="563.14" r="0.85" fill="#d4566a" opacity="0.9"/>
<circle cx="274.71" cy="560.15" r="0.85" fill="#d4566a" opacity="0.9"/>
<circle cx="275.35" cy="556.55" r="0.85" fill="#d4566a" opacity="0.9"/>
<circle cx="274.83" cy="553.87" r="0.85" fill="#c0283e" opacity="0.9"/>
<circle cx="274.74" cy="565.77" r="0.85" fill="#c0283e" opacity="0.9"/>
<circle cx="274.52" cy="552.70" r="0.85" fill="#c0283e" opacity="0.9"/>
<circle cx="275.08" cy="554.96" r="0.85" fill="#c0283e" opacity="0.9"/>
<circle cx="275.71" cy="556.54" r="0.85" fill="#c0283e" opacity="0.9"/>
<circle cx="273.54" cy="564.06" r="0.85" fill="#d4566a" opacity="0.9"/>
<circle cx="273.80" cy="563.40" r="0.85" fill="#c0283e" opacity="0.9"/>
<circle cx="276.66" cy="558.26" r="0.85" fill="#d4566a" opacity="0.9"/>
<circle cx="274.58" cy="563.00" r="0.85" fill="#c0283e" opacity="0.9"/>
<circle cx="274.19" cy="558.28" r="0.85" fill="#d4566a" opacity="0.9"/>
<circle cx="274.64" cy="561.30" r="0.85" fill="#d4566a" opacity="0.9"/>
<circle cx="274.90" cy="561.60" r="0.85" fill="#d4566a" opacity="0.9"/>
<circle cx="274.57" cy="552.70" r="0.85" fill="#d4566a" opacity="0.9"/>
<circle cx="274.70" cy="568.78" r="0.85" fill="#d4566a" opacity="0.9"/>
<circle cx="273.56" cy="556.62" r="0.85" fill="#d4566a" opacity="0.9"/>
<circle cx="274.14" cy="557.89" r="0.85" fill="#c0283e" opacity="0.9"/>
<circle cx="276.86" cy="559.89" r="0.85" fill="#d4566a" opacity="0.9"/>
<circle cx="274.17" cy="559.28" r="0.85" fill="#c0283e" opacity="0.9"/>
<line x1="274.64" y1="554.33" x2="274.64" y2="566.01" stroke="#c0283e" stroke-width="0.9"/>
<line x1="271.24" y1="560.17" x2="278.04" y2="560.17" stroke="#c0283e" stroke-width="1.1"/>
<line x1="272.84" y1="556.52" x2="276.44" y2="556.52" stroke="#c0283e" stroke-width="0.8"/>
<line x1="272.84" y1="563.82" x2="276.44" y2="563.82" stroke="#c0283e" stroke-width="0.8"/>
<line x1="284.90" y1="594.30" x2="284.90" y2="596.50" stroke="#231f20" stroke-width="0.9"/>
<circle cx="284.61" cy="579.26" r="0.90" fill="#2f7e62" opacity="0.85"/>
<circle cx="284.67" cy="583.41" r="0.90" fill="#2f7e62" opacity="0.85"/>
<polygon points="285.67,546.48 285.69,547.22 285.72,547.97 285.76,548.72 285.81,549.46 285.87,550.21 285.94,550.96 286.04,551.70 286.15,552.45 286.28,553.20 286.44,553.95 286.63,554.69 286.83,555.44 287.07,556.19 287.32,556.93 287.58,557.68 287.84,558.43 288.09,559.17 288.30,559.92 288.40,560.67 288.28,561.41 288.09,562.16 287.87,562.91 287.63,563.66 287.40,564.40 287.17,565.15 286.95,565.90 286.76,566.64 286.58,567.39 286.42,568.14 286.28,568.88 286.16,569.63 286.05,570.38 285.97,571.13 285.89,571.87 285.83,572.62 285.79,573.37 285.75,574.11 285.71,574.86 285.69,575.61 285.67,576.36 284.13,576.36 284.11,575.61 284.09,574.86 284.05,574.11 284.01,573.37 283.97,572.62 283.91,571.87 283.83,571.13 283.75,570.38 283.64,569.63 283.52,568.88 283.38,568.14 283.22,567.39 283.04,566.64 282.85,565.90 282.63,565.15 282.40,564.40 282.17,563.66 281.93,562.91 281.71,562.16 281.52,561.41 281.40,560.67 281.50,559.92 281.71,559.17 281.96,558.43 282.22,557.68 282.48,556.93 282.73,556.19 282.97,555.44 283.17,554.69 283.36,553.95 283.52,553.20 283.65,552.45 283.76,551.70 283.86,550.96 283.93,550.21 283.99,549.46 284.04,548.72 284.08,547.97 284.11,547.22 284.13,546.48" fill="#0b5a40"/>
<circle cx="284.90" cy="553.88" r="0.80" fill="#2f7e62" opacity="0.5"/>
<circle cx="284.18" cy="559.20" r="0.80" fill="#2f7e62" opacity="0.5"/>
<circle cx="285.00" cy="555.83" r="0.80" fill="#2f7e62" opacity="0.5"/>
<circle cx="285.62" cy="552.74" r="0.80" fill="#2f7e62" opacity="0.5"/>
<circle cx="285.45" cy="573.59" r="0.80" fill="#2f7e62" opacity="0.5"/>
<circle cx="285.45" cy="564.86" r="0.80" fill="#2f7e62" opacity="0.5"/>
<circle cx="284.06" cy="563.45" r="0.80" fill="#2f7e62" opacity="0.5"/>
<circle cx="285.79" cy="552.02" r="0.80" fill="#2f7e62" opacity="0.5"/>
<circle cx="284.79" cy="572.55" r="0.80" fill="#2f7e62" opacity="0.5"/>
<circle cx="285.61" cy="553.54" r="0.80" fill="#2f7e62" opacity="0.5"/>
<circle cx="284.89" cy="547.42" r="0.80" fill="#2f7e62" opacity="0.5"/>
<circle cx="285.48" cy="574.17" r="0.80" fill="#2f7e62" opacity="0.5"/>
<circle cx="284.94" cy="548.62" r="0.80" fill="#2f7e62" opacity="0.5"/>
<circle cx="284.64" cy="562.37" r="0.80" fill="#2f7e62" opacity="0.5"/>
<circle cx="284.90" cy="546.48" r="0.90" fill="#0b5a40"/>
<circle cx="284.90" cy="576.36" r="0.90" fill="#0b5a40"/>
<line x1="295.16" y1="594.30" x2="295.16" y2="596.50" stroke="#231f20" stroke-width="0.9"/>
<circle cx="295.44" cy="580.09" r="0.90" fill="#ea6aa8" opacity="0.85"/>
<polygon points="295.92,551.46 295.94,551.89 295.97,552.33 296.00,552.76 296.04,553.20 296.09,553.63 296.15,554.07 296.23,554.51 296.32,554.94 296.43,555.38 296.56,555.81 296.71,556.25 296.88,556.68 297.06,557.12 297.27,557.56 297.49,557.99 297.72,558.43 297.95,558.86 298.17,559.30 298.35,559.73 298.46,560.17 298.35,560.61 298.17,561.04 297.95,561.48 297.72,561.91 297.49,562.35 297.27,562.78 297.06,563.22 296.88,563.66 296.71,564.09 296.56,564.53 296.43,564.96 296.32,565.40 296.23,565.83 296.15,566.27 296.09,566.71 296.04,567.14 296.00,567.58 295.97,568.01 295.94,568.45 295.92,568.88 294.40,568.88 294.38,568.45 294.35,568.01 294.32,567.58 294.28,567.14 294.23,566.71 294.17,566.27 294.09,565.83 294.00,565.40 293.89,564.96 293.76,564.53 293.61,564.09 293.44,563.66 293.26,563.22 293.05,562.78 292.83,562.35 292.60,561.91 292.37,561.48 292.15,561.04 291.97,560.61 291.86,560.17 291.97,559.73 292.15,559.30 292.37,558.86 292.60,558.43 292.83,557.99 293.05,557.56 293.26,557.12 293.44,556.68 293.61,556.25 293.76,555.81 293.89,555.38 294.00,554.94 294.09,554.51 294.17,554.07 294.23,553.63 294.28,553.20 294.32,552.76 294.35,552.33 294.38,551.89 294.40,551.46" fill="#de1f82"/>
<circle cx="294.46" cy="564.98" r="0.80" fill="#ea6aa8" opacity="0.5"/>
<circle cx="294.67" cy="551.95" r="0.80" fill="#ea6aa8" opacity="0.5"/>
<circle cx="295.50" cy="554.50" r="0.80" fill="#ea6aa8" opacity="0.5"/>
<circle cx="295.79" cy="554.13" r="0.80" fill="#ea6aa8" opacity="0.5"/>
<circle cx="295.54" cy="567.40" r="0.80" fill="#ea6aa8" opacity="0.5"/>
<circle cx="294.70" cy="568.86" r="0.80" fill="#ea6aa8" opacity="0.5"/>
<circle cx="293.05" cy="558.96" r="0.80" fill="#ea6aa8" opacity="0.5"/>
<circle cx="296.35" cy="556.42" r="0.80" fill="#ea6aa8" opacity="0.5"/>
<circle cx="295.26" cy="557.97" r="0.80" fill="#ea6aa8" opacity="0.5"/>
<circle cx="296.39" cy="561.26" r="0.80" fill="#ea6aa8" opacity="0.5"/>
<circle cx="294.88" cy="567.15" r="0.80" fill="#ea6aa8" opacity="0.5"/>
<circle cx="294.76" cy="552.44" r="0.80" fill="#ea6aa8" opacity="0.5"/>
<circle cx="295.84" cy="564.34" r="0.80" fill="#ea6aa8" opacity="0.5"/>
<circle cx="295.21" cy="568.86" r="0.80" fill="#ea6aa8" opacity="0.5"/>
<circle cx="295.16" cy="551.46" r="0.90" fill="#de1f82"/>
<circle cx="295.16" cy="568.88" r="0.90" fill="#de1f82"/>
<line x1="305.42" y1="594.30" x2="305.42" y2="596.50" stroke="#231f20" stroke-width="0.9"/>
<polygon points="306.20,546.06 306.22,546.82 306.25,547.57 306.29,548.33 306.33,549.09 306.39,549.85 306.46,550.60 306.55,551.36 306.66,552.12 306.78,552.88 306.93,553.63 307.10,554.39 307.30,555.15 307.51,555.91 307.75,556.66 308.01,557.42 308.28,558.18 308.56,558.94 308.82,559.69 309.04,560.45 309.20,561.21 309.14,561.96 308.94,562.72 308.68,563.48 308.40,564.24 308.12,564.99 307.85,565.75 307.60,566.51 307.37,567.27 307.16,568.02 306.98,568.78 306.82,569.54 306.68,570.30 306.57,571.05 306.48,571.81 306.40,572.57 306.34,573.33 306.29,574.08 306.25,574.84 306.22,575.60 306.20,576.36 304.64,576.36 304.62,575.60 304.59,574.84 304.55,574.08 304.50,573.33 304.44,572.57 304.36,571.81 304.27,571.05 304.16,570.30 304.02,569.54 303.86,568.78 303.68,568.02 303.47,567.27 303.24,566.51 302.99,565.75 302.72,564.99 302.44,564.24 302.16,563.48 301.90,562.72 301.70,561.96 301.64,561.21 301.80,560.45 302.02,559.69 302.28,558.94 302.56,558.18 302.83,557.42 303.09,556.66 303.33,555.91 303.54,555.15 303.74,554.39 303.91,553.63 304.06,552.88 304.18,552.12 304.29,551.36 304.38,550.60 304.45,549.85 304.51,549.09 304.55,548.33 304.59,547.57 304.62,546.82 304.64,546.06" fill="#184a88"/>
<circle cx="305.14" cy="546.17" r="0.80" fill="#3e6ca4" opacity="0.5"/>
<circle cx="306.56" cy="566.77" r="0.80" fill="#3e6ca4" opacity="0.5"/>
<circle cx="305.48" cy="569.01" r="0.80" fill="#3e6ca4" opacity="0.5"/>
<circle cx="302.84" cy="559.78" r="0.80" fill="#3e6ca4" opacity="0.5"/>
<circle cx="306.17" cy="563.88" r="0.80" fill="#3e6ca4" opacity="0.5"/>
<circle cx="305.01" cy="574.68" r="0.80" fill="#3e6ca4" opacity="0.5"/>
<circle cx="305.64" cy="549.55" r="0.80" fill="#3e6ca4" opacity="0.5"/>
<circle cx="305.04" cy="573.90" r="0.80" fill="#3e6ca4" opacity="0.5"/>
<circle cx="304.74" cy="563.50" r="0.80" fill="#3e6ca4" opacity="0.5"/>
<circle cx="306.61" cy="561.42" r="0.80" fill="#3e6ca4" opacity="0.5"/>
<circle cx="305.04" cy="554.59" r="0.80" fill="#3e6ca4" opacity="0.5"/>
<circle cx="303.10" cy="564.35" r="0.80" fill="#3e6ca4" opacity="0.5"/>
<circle cx="306.46" cy="567.51" r="0.80" fill="#3e6ca4" opacity="0.5"/>
<circle cx="305.41" cy="574.31" r="0.80" fill="#3e6ca4" opacity="0.5"/>
<circle cx="305.42" cy="546.06" r="0.90" fill="#184a88"/>
<circle cx="305.42" cy="576.36" r="0.90" fill="#184a88"/>
<line x1="315.68" y1="594.30" x2="315.68" y2="596.50" stroke="#231f20" stroke-width="0.9"/>
<circle cx="315.38" cy="574.28" r="0.90" fill="#f4d36e" opacity="0.85"/>
<circle cx="315.95" cy="578.43" r="0.90" fill="#f4d36e" opacity="0.85"/>
<circle cx="314.61" cy="559.28" r="0.85" fill="#f4d36e" opacity="0.9"/>
<circle cx="314.62" cy="555.61" r="0.85" fill="#e8b21a" opacity="0.9"/>
<circle cx="315.12" cy="564.98" r="0.85" fill="#f4d36e" opacity="0.9"/>
<circle cx="317.91" cy="561.32" r="0.85" fill="#f4d36e" opacity="0.9"/>
<circle cx="315.24" cy="558.46" r="0.85" fill="#f4d36e" opacity="0.9"/>
<circle cx="313.51" cy="562.40" r="0.85" fill="#e8b21a" opacity="0.9"/>
<circle cx="313.45" cy="560.28" r="0.85" fill="#f4d36e" opacity="0.9"/>
<circle cx="315.43" cy="560.01" r="0.85" fill="#e8b21a" opacity="0.9"/>
<circle cx="316.87" cy="554.73" r="0.85" fill="#f4d36e" opacity="0.9"/>
<circle cx="315.46" cy="567.42" r="0.85" fill="#f4d36e" opacity="0.9"/>
<circle cx="315.62" cy="565.30" r="0.85" fill="#f4d36e" opacity="0.9"/>
<circle cx="315.91" cy="566.94" r="0.85" fill="#f4d36e" opacity="0.9"/>
<circle cx="315.57" cy="552.90" r="0.85" fill="#f4d36e" opacity="0.9"/>
<circle cx="315.04" cy="567.64" r="0.85" fill="#f4d36e" opacity="0.9"/>
<circle cx="316.85" cy="556.37" r="0.85" fill="#e8b21a" opacity="0.9"/>
<circle cx="317.63" cy="558.61" r="0.85" fill="#f4d36e" opacity="0.9"/>
<circle cx="315.43" cy="567.64" r="0.85" fill="#f4d36e" opacity="0.9"/>
<circle cx="314.67" cy="554.94" r="0.85" fill="#e8b21a" opacity="0.9"/>
<circle cx="316.28" cy="566.68" r="0.85" fill="#f4d36e" opacity="0.9"/>
<circle cx="314.76" cy="560.53" r="0.85" fill="#e8b21a" opacity="0.9"/>
<circle cx="315.23" cy="560.32" r="0.85" fill="#e8b21a" opacity="0.9"/>
<circle cx="316.94" cy="562.24" r="0.85" fill="#f4d36e" opacity="0.9"/>
<line x1="315.68" y1="554.40" x2="315.68" y2="568.43" stroke="#e8b21a" stroke-width="0.9"/>
<line x1="312.28" y1="561.41" x2="319.08" y2="561.41" stroke="#e8b21a" stroke-width="1.1"/>
<line x1="313.88" y1="557.03" x2="317.48" y2="557.03" stroke="#e8b21a" stroke-width="0.8"/>
<line x1="313.88" y1="565.80" x2="317.48" y2="565.80" stroke="#e8b21a" stroke-width="0.8"/>
<line x1="325.94" y1="594.30" x2="325.94" y2="596.50" stroke="#231f20" stroke-width="0.9"/>
<circle cx="325.82" cy="546.06" r="0.90" fill="#a6bc8c" opacity="0.85"/>
<circle cx="325.90" cy="570.13" r="0.90" fill="#a6bc8c" opacity="0.85"/>
<circle cx="324.45" cy="558.27" r="0.85" fill="#a6bc8c" opacity="0.9"/>
<circle cx="327.55" cy="560.16" r="0.85" fill="#a6bc8c" opacity="0.9"/>
<circle cx="327.33" cy="561.20" r="0.85" fill="#a6bc8c" opacity="0.9"/>
<circle cx="325.25" cy="555.92" r="0.85" fill="#6e8e4e" opacity="0.9"/>
<circle cx="325.47" cy="562.25" r="0.85" fill="#6e8e4e" opacity="0.9"/>
<circle cx="326.27" cy="565.98" r="0.85" fill="#6e8e4e" opacity="0.9"/>
<circle cx="327.27" cy="557.32" r="0.85" fill="#a6bc8c" opacity="0.9"/>
<circle cx="325.82" cy="559.26" r="0.85" fill="#a6bc8c" opacity="0.9"/>
<circle cx="325.39" cy="554.83" r="0.85" fill="#a6bc8c" opacity="0.9"/>
<circle cx="327.28" cy="559.93" r="0.85" fill="#a6bc8c" opacity="0.9"/>
<circle cx="326.93" cy="556.39" r="0.85" fill="#6e8e4e" opacity="0.9"/>
<circle cx="325.10" cy="559.91" r="0.85" fill="#6e8e4e" opacity="0.9"/>
<circle cx="325.14" cy="557.95" r="0.85" fill="#a6bc8c" opacity="0.9"/>
<circle cx="325.88" cy="564.37" r="0.85" fill="#6e8e4e" opacity="0.9"/>
<circle cx="326.76" cy="556.34" r="0.85" fill="#a6bc8c" opacity="0.9"/>
<circle cx="325.55" cy="557.45" r="0.85" fill="#6e8e4e" opacity="0.9"/>
<circle cx="325.64" cy="553.61" r="0.85" fill="#a6bc8c" opacity="0.9"/>
<circle cx="327.62" cy="557.65" r="0.85" fill="#a6bc8c" opacity="0.9"/>
<circle cx="323.90" cy="558.92" r="0.85" fill="#a6bc8c" opacity="0.9"/>
<circle cx="327.81" cy="557.03" r="0.85" fill="#a6bc8c" opacity="0.9"/>
<circle cx="325.77" cy="557.73" r="0.85" fill="#6e8e4e" opacity="0.9"/>
<circle cx="324.98" cy="556.80" r="0.85" fill="#6e8e4e" opacity="0.9"/>
<line x1="325.94" y1="553.50" x2="325.94" y2="564.02" stroke="#6e8e4e" stroke-width="0.9"/>
<line x1="322.54" y1="558.76" x2="329.34" y2="558.76" stroke="#6e8e4e" stroke-width="1.1"/>
<line x1="324.14" y1="555.47" x2="327.74" y2="555.47" stroke="#6e8e4e" stroke-width="0.8"/>
<line x1="324.14" y1="562.05" x2="327.74" y2="562.05" stroke="#6e8e4e" stroke-width="0.8"/>
<line x1="336.20" y1="594.30" x2="336.20" y2="596.50" stroke="#231f20" stroke-width="0.9"/>
<circle cx="336.55" cy="553.12" r="0.90" fill="#f2bf78" opacity="0.85"/>
<circle cx="336.36" cy="580.09" r="0.90" fill="#f2bf78" opacity="0.85"/>
<circle cx="335.82" cy="585.90" r="0.90" fill="#f2bf78" opacity="0.85"/>
<circle cx="336.44" cy="564.32" r="0.85" fill="#f2bf78" opacity="0.9"/>
<circle cx="335.49" cy="569.63" r="0.85" fill="#f2bf78" opacity="0.9"/>
<circle cx="335.07" cy="565.30" r="0.85" fill="#f2bf78" opacity="0.9"/>
<circle cx="335.63" cy="563.09" r="0.85" fill="#ec9628" opacity="0.9"/>
<circle cx="335.01" cy="565.76" r="0.85" fill="#f2bf78" opacity="0.9"/>
<circle cx="336.23" cy="564.83" r="0.85" fill="#f2bf78" opacity="0.9"/>
<circle cx="336.04" cy="567.65" r="0.85" fill="#f2bf78" opacity="0.9"/>
<circle cx="334.60" cy="568.11" r="0.85" fill="#f2bf78" opacity="0.9"/>
<circle cx="336.03" cy="563.92" r="0.85" fill="#f2bf78" opacity="0.9"/>
<circle cx="334.55" cy="568.64" r="0.85" fill="#f2bf78" opacity="0.9"/>
<circle cx="336.71" cy="566.24" r="0.85" fill="#ec9628" opacity="0.9"/>
<circle cx="334.95" cy="564.92" r="0.85" fill="#f2bf78" opacity="0.9"/>
<circle cx="336.12" cy="572.82" r="0.85" fill="#f2bf78" opacity="0.9"/>
<circle cx="336.59" cy="559.74" r="0.85" fill="#ec9628" opacity="0.9"/>
<circle cx="336.54" cy="564.34" r="0.85" fill="#ec9628" opacity="0.9"/>
<circle cx="335.48" cy="567.12" r="0.85" fill="#f2bf78" opacity="0.9"/>
<circle cx="335.01" cy="568.12" r="0.85" fill="#f2bf78" opacity="0.9"/>
<circle cx="334.48" cy="564.53" r="0.85" fill="#ec9628" opacity="0.9"/>
<circle cx="334.27" cy="568.20" r="0.85" fill="#f2bf78" opacity="0.9"/>
<circle cx="335.89" cy="568.93" r="0.85" fill="#f2bf78" opacity="0.9"/>
<circle cx="335.02" cy="564.81" r="0.85" fill="#f2bf78" opacity="0.9"/>
<circle cx="336.32" cy="562.73" r="0.85" fill="#f2bf78" opacity="0.9"/>
<line x1="336.20" y1="560.55" x2="336.20" y2="572.24" stroke="#ec9628" stroke-width="0.9"/>
<line x1="332.80" y1="566.39" x2="339.60" y2="566.39" stroke="#ec9628" stroke-width="1.1"/>
<line x1="334.40" y1="562.74" x2="338.00" y2="562.74" stroke="#ec9628" stroke-width="0.8"/>
<line x1="334.40" y1="570.05" x2="338.00" y2="570.05" stroke="#ec9628" stroke-width="0.8"/>
<circle cx="349.80" cy="511.50" r="1.10" fill="#d4d4d4"/>
<text x="353.80" y="513.65" font-size="5.95" fill="#2a2a2a" textLength="24.10" lengthAdjust="spacingAndGlyphs">All genes</text>
<circle cx="349.80" cy="521.10" r="1.10" fill="#72b8a8"/>
<text x="353.80" y="523.25" font-size="5.95" fill="#2a2a2a" textLength="91.60" lengthAdjust="spacingAndGlyphs">DORSAM_HOXA9_TARGETS_UP</text>
<circle cx="349.80" cy="530.70" r="1.10" fill="#9a5a9a"/>
<text x="353.80" y="532.85" font-size="5.95" fill="#2a2a2a" textLength="92.20" lengthAdjust="spacingAndGlyphs">DORSAM_HOXA9_TARGETS_DN</text>
<circle cx="349.80" cy="540.30" r="1.10" fill="#a6d2ea"/>
<text x="353.80" y="542.45" font-size="5.95" fill="#2a2a2a" textLength="150.40" lengthAdjust="spacingAndGlyphs">WANG_IMMORTALIZED_BY_HOXA9_AND_MEIS1_UP</text>
<circle cx="349.80" cy="549.90" r="1.10" fill="#d86a6a"/>
<text x="353.80" y="552.05" font-size="5.95" fill="#2a2a2a" textLength="150.80" lengthAdjust="spacingAndGlyphs">WANG_IMMORTALIZED_BY_HOXA9_AND_MEIS1_DN</text>
<circle cx="349.80" cy="559.50" r="1.10" fill="#5a9ab8"/>
<text x="353.80" y="561.65" font-size="5.95" fill="#2a2a2a" textLength="52.50" lengthAdjust="spacingAndGlyphs">HOXA9_DN.V1_UP</text>
<circle cx="349.80" cy="569.10" r="1.10" fill="#e278a8"/>
<text x="353.80" y="571.25" font-size="5.95" fill="#2a2a2a" textLength="53.10" lengthAdjust="spacingAndGlyphs">HOXA9_DN.V1_DN</text>
<circle cx="349.80" cy="578.70" r="1.10" fill="#4a7a98"/>
<text x="353.80" y="580.85" font-size="5.95" fill="#2a2a2a" textLength="159.50" lengthAdjust="spacingAndGlyphs">TAKEDA_TARGETS_OF_NUP98_HOXA9_FUSION_8D_UP</text>
<circle cx="349.80" cy="588.30" r="1.10" fill="#f0d898"/>
<text x="353.80" y="590.45" font-size="5.95" fill="#2a2a2a" textLength="160.00" lengthAdjust="spacingAndGlyphs">TAKEDA_TARGETS_OF_NUP98_HOXA9_FUSION_8D_DN</text>
<circle cx="349.80" cy="597.90" r="1.10" fill="#c6d4b4"/>
<text x="353.80" y="600.05" font-size="5.95" fill="#2a2a2a" textLength="130.60" lengthAdjust="spacingAndGlyphs">HESS_TARGETS_OF_HOXA9_AND_MEIS1_UP</text>
<circle cx="349.80" cy="607.50" r="1.10" fill="#e8d8c0"/>
<text x="353.80" y="609.65" font-size="5.95" fill="#2a2a2a" textLength="131.20" lengthAdjust="spacingAndGlyphs">HESS_TARGETS_OF_HOXA9_AND_MEIS1_DN</text><rect x="0.5" y="0.5" width="519" height="624" fill="none" stroke="#6e6e6e" stroke-width="1"/></svg></body></html>
